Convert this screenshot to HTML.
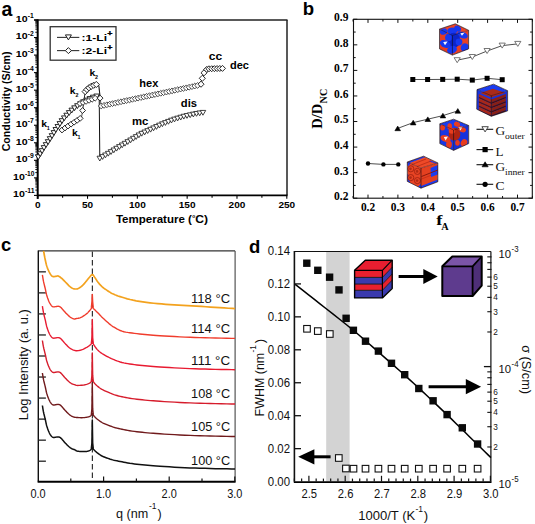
<!DOCTYPE html>
<html><head><meta charset="utf-8"><style>
html,body{margin:0;padding:0;background:#fff;}
body{width:535px;height:524px;overflow:hidden;}
svg{display:block;}
</style></head><body>
<svg width="535" height="524" viewBox="0 0 535 524">
<rect width="535" height="524" fill="#fff"/>
<text x="1.50" y="15.50" font-size="19.5" font-family='"Liberation Sans", sans-serif' font-weight="bold" text-anchor="start" fill="#000" >a</text>
<line x1="34.20" y1="20.00" x2="287.50" y2="20.00" stroke="#222" stroke-width="1.3" />
<line x1="287.00" y1="20.00" x2="287.00" y2="195.40" stroke="#222" stroke-width="1.5" />
<line x1="37.20" y1="195.40" x2="287.50" y2="195.40" stroke="#000" stroke-width="1.7" />
<line x1="37.70" y1="19.40" x2="37.70" y2="198.90" stroke="#000" stroke-width="2.0" />
<line x1="34.00" y1="20.00" x2="37.70" y2="20.00" stroke="#000" stroke-width="1.1" />
<line x1="35.30" y1="32.26" x2="37.70" y2="32.26" stroke="#000" stroke-width="0.9" />
<line x1="35.30" y1="29.17" x2="37.70" y2="29.17" stroke="#000" stroke-width="0.9" />
<line x1="35.30" y1="26.98" x2="37.70" y2="26.98" stroke="#000" stroke-width="0.9" />
<line x1="35.30" y1="25.28" x2="37.70" y2="25.28" stroke="#000" stroke-width="0.9" />
<line x1="35.30" y1="23.89" x2="37.70" y2="23.89" stroke="#000" stroke-width="0.9" />
<line x1="35.30" y1="22.72" x2="37.70" y2="22.72" stroke="#000" stroke-width="0.9" />
<line x1="35.30" y1="21.70" x2="37.70" y2="21.70" stroke="#000" stroke-width="0.9" />
<line x1="35.30" y1="20.80" x2="37.70" y2="20.80" stroke="#000" stroke-width="0.9" />
<line x1="34.00" y1="37.54" x2="37.70" y2="37.54" stroke="#000" stroke-width="1.1" />
<line x1="35.30" y1="49.80" x2="37.70" y2="49.80" stroke="#000" stroke-width="0.9" />
<line x1="35.30" y1="46.71" x2="37.70" y2="46.71" stroke="#000" stroke-width="0.9" />
<line x1="35.30" y1="44.52" x2="37.70" y2="44.52" stroke="#000" stroke-width="0.9" />
<line x1="35.30" y1="42.82" x2="37.70" y2="42.82" stroke="#000" stroke-width="0.9" />
<line x1="35.30" y1="41.43" x2="37.70" y2="41.43" stroke="#000" stroke-width="0.9" />
<line x1="35.30" y1="40.26" x2="37.70" y2="40.26" stroke="#000" stroke-width="0.9" />
<line x1="35.30" y1="39.24" x2="37.70" y2="39.24" stroke="#000" stroke-width="0.9" />
<line x1="35.30" y1="38.34" x2="37.70" y2="38.34" stroke="#000" stroke-width="0.9" />
<line x1="34.00" y1="55.08" x2="37.70" y2="55.08" stroke="#000" stroke-width="1.1" />
<line x1="35.30" y1="67.34" x2="37.70" y2="67.34" stroke="#000" stroke-width="0.9" />
<line x1="35.30" y1="64.25" x2="37.70" y2="64.25" stroke="#000" stroke-width="0.9" />
<line x1="35.30" y1="62.06" x2="37.70" y2="62.06" stroke="#000" stroke-width="0.9" />
<line x1="35.30" y1="60.36" x2="37.70" y2="60.36" stroke="#000" stroke-width="0.9" />
<line x1="35.30" y1="58.97" x2="37.70" y2="58.97" stroke="#000" stroke-width="0.9" />
<line x1="35.30" y1="57.80" x2="37.70" y2="57.80" stroke="#000" stroke-width="0.9" />
<line x1="35.30" y1="56.78" x2="37.70" y2="56.78" stroke="#000" stroke-width="0.9" />
<line x1="35.30" y1="55.88" x2="37.70" y2="55.88" stroke="#000" stroke-width="0.9" />
<line x1="34.00" y1="72.62" x2="37.70" y2="72.62" stroke="#000" stroke-width="1.1" />
<line x1="35.30" y1="84.88" x2="37.70" y2="84.88" stroke="#000" stroke-width="0.9" />
<line x1="35.30" y1="81.79" x2="37.70" y2="81.79" stroke="#000" stroke-width="0.9" />
<line x1="35.30" y1="79.60" x2="37.70" y2="79.60" stroke="#000" stroke-width="0.9" />
<line x1="35.30" y1="77.90" x2="37.70" y2="77.90" stroke="#000" stroke-width="0.9" />
<line x1="35.30" y1="76.51" x2="37.70" y2="76.51" stroke="#000" stroke-width="0.9" />
<line x1="35.30" y1="75.34" x2="37.70" y2="75.34" stroke="#000" stroke-width="0.9" />
<line x1="35.30" y1="74.32" x2="37.70" y2="74.32" stroke="#000" stroke-width="0.9" />
<line x1="35.30" y1="73.42" x2="37.70" y2="73.42" stroke="#000" stroke-width="0.9" />
<line x1="34.00" y1="90.16" x2="37.70" y2="90.16" stroke="#000" stroke-width="1.1" />
<line x1="35.30" y1="102.42" x2="37.70" y2="102.42" stroke="#000" stroke-width="0.9" />
<line x1="35.30" y1="99.33" x2="37.70" y2="99.33" stroke="#000" stroke-width="0.9" />
<line x1="35.30" y1="97.14" x2="37.70" y2="97.14" stroke="#000" stroke-width="0.9" />
<line x1="35.30" y1="95.44" x2="37.70" y2="95.44" stroke="#000" stroke-width="0.9" />
<line x1="35.30" y1="94.05" x2="37.70" y2="94.05" stroke="#000" stroke-width="0.9" />
<line x1="35.30" y1="92.88" x2="37.70" y2="92.88" stroke="#000" stroke-width="0.9" />
<line x1="35.30" y1="91.86" x2="37.70" y2="91.86" stroke="#000" stroke-width="0.9" />
<line x1="35.30" y1="90.96" x2="37.70" y2="90.96" stroke="#000" stroke-width="0.9" />
<line x1="34.00" y1="107.70" x2="37.70" y2="107.70" stroke="#000" stroke-width="1.1" />
<line x1="35.30" y1="119.96" x2="37.70" y2="119.96" stroke="#000" stroke-width="0.9" />
<line x1="35.30" y1="116.87" x2="37.70" y2="116.87" stroke="#000" stroke-width="0.9" />
<line x1="35.30" y1="114.68" x2="37.70" y2="114.68" stroke="#000" stroke-width="0.9" />
<line x1="35.30" y1="112.98" x2="37.70" y2="112.98" stroke="#000" stroke-width="0.9" />
<line x1="35.30" y1="111.59" x2="37.70" y2="111.59" stroke="#000" stroke-width="0.9" />
<line x1="35.30" y1="110.42" x2="37.70" y2="110.42" stroke="#000" stroke-width="0.9" />
<line x1="35.30" y1="109.40" x2="37.70" y2="109.40" stroke="#000" stroke-width="0.9" />
<line x1="35.30" y1="108.50" x2="37.70" y2="108.50" stroke="#000" stroke-width="0.9" />
<line x1="34.00" y1="125.24" x2="37.70" y2="125.24" stroke="#000" stroke-width="1.1" />
<line x1="35.30" y1="137.50" x2="37.70" y2="137.50" stroke="#000" stroke-width="0.9" />
<line x1="35.30" y1="134.41" x2="37.70" y2="134.41" stroke="#000" stroke-width="0.9" />
<line x1="35.30" y1="132.22" x2="37.70" y2="132.22" stroke="#000" stroke-width="0.9" />
<line x1="35.30" y1="130.52" x2="37.70" y2="130.52" stroke="#000" stroke-width="0.9" />
<line x1="35.30" y1="129.13" x2="37.70" y2="129.13" stroke="#000" stroke-width="0.9" />
<line x1="35.30" y1="127.96" x2="37.70" y2="127.96" stroke="#000" stroke-width="0.9" />
<line x1="35.30" y1="126.94" x2="37.70" y2="126.94" stroke="#000" stroke-width="0.9" />
<line x1="35.30" y1="126.04" x2="37.70" y2="126.04" stroke="#000" stroke-width="0.9" />
<line x1="34.00" y1="142.78" x2="37.70" y2="142.78" stroke="#000" stroke-width="1.1" />
<line x1="35.30" y1="155.04" x2="37.70" y2="155.04" stroke="#000" stroke-width="0.9" />
<line x1="35.30" y1="151.95" x2="37.70" y2="151.95" stroke="#000" stroke-width="0.9" />
<line x1="35.30" y1="149.76" x2="37.70" y2="149.76" stroke="#000" stroke-width="0.9" />
<line x1="35.30" y1="148.06" x2="37.70" y2="148.06" stroke="#000" stroke-width="0.9" />
<line x1="35.30" y1="146.67" x2="37.70" y2="146.67" stroke="#000" stroke-width="0.9" />
<line x1="35.30" y1="145.50" x2="37.70" y2="145.50" stroke="#000" stroke-width="0.9" />
<line x1="35.30" y1="144.48" x2="37.70" y2="144.48" stroke="#000" stroke-width="0.9" />
<line x1="35.30" y1="143.58" x2="37.70" y2="143.58" stroke="#000" stroke-width="0.9" />
<line x1="34.00" y1="160.32" x2="37.70" y2="160.32" stroke="#000" stroke-width="1.1" />
<line x1="35.30" y1="172.58" x2="37.70" y2="172.58" stroke="#000" stroke-width="0.9" />
<line x1="35.30" y1="169.49" x2="37.70" y2="169.49" stroke="#000" stroke-width="0.9" />
<line x1="35.30" y1="167.30" x2="37.70" y2="167.30" stroke="#000" stroke-width="0.9" />
<line x1="35.30" y1="165.60" x2="37.70" y2="165.60" stroke="#000" stroke-width="0.9" />
<line x1="35.30" y1="164.21" x2="37.70" y2="164.21" stroke="#000" stroke-width="0.9" />
<line x1="35.30" y1="163.04" x2="37.70" y2="163.04" stroke="#000" stroke-width="0.9" />
<line x1="35.30" y1="162.02" x2="37.70" y2="162.02" stroke="#000" stroke-width="0.9" />
<line x1="35.30" y1="161.12" x2="37.70" y2="161.12" stroke="#000" stroke-width="0.9" />
<line x1="34.00" y1="177.86" x2="37.70" y2="177.86" stroke="#000" stroke-width="1.1" />
<line x1="35.30" y1="190.12" x2="37.70" y2="190.12" stroke="#000" stroke-width="0.9" />
<line x1="35.30" y1="187.03" x2="37.70" y2="187.03" stroke="#000" stroke-width="0.9" />
<line x1="35.30" y1="184.84" x2="37.70" y2="184.84" stroke="#000" stroke-width="0.9" />
<line x1="35.30" y1="183.14" x2="37.70" y2="183.14" stroke="#000" stroke-width="0.9" />
<line x1="35.30" y1="181.75" x2="37.70" y2="181.75" stroke="#000" stroke-width="0.9" />
<line x1="35.30" y1="180.58" x2="37.70" y2="180.58" stroke="#000" stroke-width="0.9" />
<line x1="35.30" y1="179.56" x2="37.70" y2="179.56" stroke="#000" stroke-width="0.9" />
<line x1="35.30" y1="178.66" x2="37.70" y2="178.66" stroke="#000" stroke-width="0.9" />
<line x1="34.00" y1="195.40" x2="37.70" y2="195.40" stroke="#000" stroke-width="1.1" />
<text x="27.70" y="18.00" font-size="6.6" font-family='"Liberation Sans", sans-serif' font-weight="bold" text-anchor="start" fill="#000" textLength="6.00" lengthAdjust="spacingAndGlyphs" >-1</text>
<text x="27.60" y="21.90" font-size="9.6" font-family='"Liberation Sans", sans-serif' font-weight="bold" text-anchor="end" fill="#000" textLength="11.80" lengthAdjust="spacingAndGlyphs" >10</text>
<text x="27.70" y="35.54" font-size="6.6" font-family='"Liberation Sans", sans-serif' font-weight="bold" text-anchor="start" fill="#000" textLength="6.00" lengthAdjust="spacingAndGlyphs" >-2</text>
<text x="27.60" y="39.44" font-size="9.6" font-family='"Liberation Sans", sans-serif' font-weight="bold" text-anchor="end" fill="#000" textLength="11.80" lengthAdjust="spacingAndGlyphs" >10</text>
<text x="27.70" y="53.08" font-size="6.6" font-family='"Liberation Sans", sans-serif' font-weight="bold" text-anchor="start" fill="#000" textLength="6.00" lengthAdjust="spacingAndGlyphs" >-3</text>
<text x="27.60" y="56.98" font-size="9.6" font-family='"Liberation Sans", sans-serif' font-weight="bold" text-anchor="end" fill="#000" textLength="11.80" lengthAdjust="spacingAndGlyphs" >10</text>
<text x="27.70" y="70.62" font-size="6.6" font-family='"Liberation Sans", sans-serif' font-weight="bold" text-anchor="start" fill="#000" textLength="6.00" lengthAdjust="spacingAndGlyphs" >-4</text>
<text x="27.60" y="74.52" font-size="9.6" font-family='"Liberation Sans", sans-serif' font-weight="bold" text-anchor="end" fill="#000" textLength="11.80" lengthAdjust="spacingAndGlyphs" >10</text>
<text x="27.70" y="88.16" font-size="6.6" font-family='"Liberation Sans", sans-serif' font-weight="bold" text-anchor="start" fill="#000" textLength="6.00" lengthAdjust="spacingAndGlyphs" >-5</text>
<text x="27.60" y="92.06" font-size="9.6" font-family='"Liberation Sans", sans-serif' font-weight="bold" text-anchor="end" fill="#000" textLength="11.80" lengthAdjust="spacingAndGlyphs" >10</text>
<text x="27.70" y="105.70" font-size="6.6" font-family='"Liberation Sans", sans-serif' font-weight="bold" text-anchor="start" fill="#000" textLength="6.00" lengthAdjust="spacingAndGlyphs" >-6</text>
<text x="27.60" y="109.60" font-size="9.6" font-family='"Liberation Sans", sans-serif' font-weight="bold" text-anchor="end" fill="#000" textLength="11.80" lengthAdjust="spacingAndGlyphs" >10</text>
<text x="27.70" y="123.24" font-size="6.6" font-family='"Liberation Sans", sans-serif' font-weight="bold" text-anchor="start" fill="#000" textLength="6.00" lengthAdjust="spacingAndGlyphs" >-7</text>
<text x="27.60" y="127.14" font-size="9.6" font-family='"Liberation Sans", sans-serif' font-weight="bold" text-anchor="end" fill="#000" textLength="11.80" lengthAdjust="spacingAndGlyphs" >10</text>
<text x="27.70" y="140.78" font-size="6.6" font-family='"Liberation Sans", sans-serif' font-weight="bold" text-anchor="start" fill="#000" textLength="6.00" lengthAdjust="spacingAndGlyphs" >-8</text>
<text x="27.60" y="144.68" font-size="9.6" font-family='"Liberation Sans", sans-serif' font-weight="bold" text-anchor="end" fill="#000" textLength="11.80" lengthAdjust="spacingAndGlyphs" >10</text>
<text x="27.70" y="158.32" font-size="6.6" font-family='"Liberation Sans", sans-serif' font-weight="bold" text-anchor="start" fill="#000" textLength="6.00" lengthAdjust="spacingAndGlyphs" >-9</text>
<text x="27.60" y="162.22" font-size="9.6" font-family='"Liberation Sans", sans-serif' font-weight="bold" text-anchor="end" fill="#000" textLength="11.80" lengthAdjust="spacingAndGlyphs" >10</text>
<text x="24.90" y="175.86" font-size="6.6" font-family='"Liberation Sans", sans-serif' font-weight="bold" text-anchor="start" fill="#000" textLength="9.60" lengthAdjust="spacingAndGlyphs" >-10</text>
<text x="24.80" y="179.76" font-size="9.6" font-family='"Liberation Sans", sans-serif' font-weight="bold" text-anchor="end" fill="#000" textLength="11.80" lengthAdjust="spacingAndGlyphs" >10</text>
<text x="24.90" y="193.40" font-size="6.6" font-family='"Liberation Sans", sans-serif' font-weight="bold" text-anchor="start" fill="#000" textLength="9.60" lengthAdjust="spacingAndGlyphs" >-11</text>
<text x="24.80" y="197.30" font-size="9.6" font-family='"Liberation Sans", sans-serif' font-weight="bold" text-anchor="end" fill="#000" textLength="11.80" lengthAdjust="spacingAndGlyphs" >10</text>
<line x1="37.70" y1="195.40" x2="37.70" y2="198.80" stroke="#000" stroke-width="1.1" />
<line x1="62.61" y1="195.40" x2="62.61" y2="197.80" stroke="#000" stroke-width="1.1" />
<line x1="87.52" y1="195.40" x2="87.52" y2="198.80" stroke="#000" stroke-width="1.1" />
<line x1="112.43" y1="195.40" x2="112.43" y2="197.80" stroke="#000" stroke-width="1.1" />
<line x1="137.34" y1="195.40" x2="137.34" y2="198.80" stroke="#000" stroke-width="1.1" />
<line x1="162.25" y1="195.40" x2="162.25" y2="197.80" stroke="#000" stroke-width="1.1" />
<line x1="187.16" y1="195.40" x2="187.16" y2="198.80" stroke="#000" stroke-width="1.1" />
<line x1="212.07" y1="195.40" x2="212.07" y2="197.80" stroke="#000" stroke-width="1.1" />
<line x1="236.98" y1="195.40" x2="236.98" y2="198.80" stroke="#000" stroke-width="1.1" />
<line x1="261.89" y1="195.40" x2="261.89" y2="197.80" stroke="#000" stroke-width="1.1" />
<line x1="286.80" y1="195.40" x2="286.80" y2="198.80" stroke="#000" stroke-width="1.1" />
<text x="37.70" y="208.00" font-size="8.6" font-family='"Liberation Sans", sans-serif' font-weight="bold" text-anchor="middle" fill="#000" textLength="5.60" lengthAdjust="spacingAndGlyphs" >0</text>
<text x="87.52" y="208.00" font-size="8.6" font-family='"Liberation Sans", sans-serif' font-weight="bold" text-anchor="middle" fill="#000" textLength="11.20" lengthAdjust="spacingAndGlyphs" >50</text>
<text x="137.34" y="208.00" font-size="8.6" font-family='"Liberation Sans", sans-serif' font-weight="bold" text-anchor="middle" fill="#000" textLength="16.80" lengthAdjust="spacingAndGlyphs" >100</text>
<text x="187.16" y="208.00" font-size="8.6" font-family='"Liberation Sans", sans-serif' font-weight="bold" text-anchor="middle" fill="#000" textLength="16.80" lengthAdjust="spacingAndGlyphs" >150</text>
<text x="236.98" y="208.00" font-size="8.6" font-family='"Liberation Sans", sans-serif' font-weight="bold" text-anchor="middle" fill="#000" textLength="16.80" lengthAdjust="spacingAndGlyphs" >200</text>
<text x="286.80" y="208.00" font-size="8.6" font-family='"Liberation Sans", sans-serif' font-weight="bold" text-anchor="middle" fill="#000" textLength="16.80" lengthAdjust="spacingAndGlyphs" >250</text>
<text x="115.90" y="222.50" font-size="10.0" font-family='"Liberation Sans", sans-serif' font-weight="bold" text-anchor="start" fill="#000" textLength="76.00" lengthAdjust="spacingAndGlyphs" >Temperature (</text>
<text x="192.20" y="218.00" font-size="5.5" font-family='"Liberation Sans", sans-serif' font-weight="bold" text-anchor="start" fill="#000" textLength="3.00" lengthAdjust="spacingAndGlyphs" >o</text>
<text x="195.20" y="222.50" font-size="10.0" font-family='"Liberation Sans", sans-serif' font-weight="bold" text-anchor="start" fill="#000" textLength="12.80" lengthAdjust="spacingAndGlyphs" >C)</text>
<text x="9.80" y="151.30" font-size="10.6" font-family='"Liberation Sans", sans-serif' font-weight="bold" text-anchor="start" fill="#000" textLength="99.80" lengthAdjust="spacingAndGlyphs" transform="rotate(-90 9.80 151.30)" >Conductivity (S/cm)</text>
<rect x="50.20" y="26.70" width="65.80" height="33.50" fill="none" stroke="#333" stroke-width="1.3" />
<line x1="57.00" y1="37.40" x2="79.30" y2="37.40" stroke="#333" stroke-width="1.1" />
<polygon points="65.40,34.90 71.40,34.90 68.40,39.90" fill="#fff" stroke="#222" stroke-width="1.0" />
<line x1="57.00" y1="50.60" x2="79.30" y2="50.60" stroke="#333" stroke-width="1.1" />
<polygon points="68.40,47.60 71.40,50.60 68.40,53.60 65.40,50.60" fill="#fff" stroke="#222" stroke-width="1.0" />
<text x="81.50" y="41.10" font-size="9.6" font-family='"Liberation Sans", sans-serif' font-weight="bold" text-anchor="start" fill="#000" textLength="25.50" lengthAdjust="spacingAndGlyphs" >:1-Li</text>
<text x="107.20" y="36.40" font-size="8.0" font-family='"Liberation Sans", sans-serif' font-weight="bold" text-anchor="start" fill="#000" textLength="5.20" lengthAdjust="spacingAndGlyphs" stroke="#000" stroke-width="0.4">+</text>
<text x="81.50" y="54.40" font-size="9.6" font-family='"Liberation Sans", sans-serif' font-weight="bold" text-anchor="start" fill="#000" textLength="25.50" lengthAdjust="spacingAndGlyphs" >:2-Li</text>
<text x="107.20" y="49.60" font-size="8.0" font-family='"Liberation Sans", sans-serif' font-weight="bold" text-anchor="start" fill="#000" textLength="5.20" lengthAdjust="spacingAndGlyphs" stroke="#000" stroke-width="0.4">+</text>
<polyline points="38.30,157.20 43.60,148.60 48.40,141.60 53.10,134.40 56.00,129.60 58.90,125.40 61.70,121.40 65.50,116.80 69.40,112.80 73.20,109.20 77.90,105.80 82.70,102.60 88.40,99.60 94.20,97.20 98.80,95.80" fill="none" stroke="#222" stroke-width="0.8" stroke-linejoin="round" />
<line x1="99.20" y1="95.60" x2="99.80" y2="158.20" stroke="#111" stroke-width="1.0" />
<polyline points="99.80,158.60 106.50,154.80 117.90,147.90 129.40,141.10 140.80,134.20 150.00,130.00 161.50,124.60 172.90,120.00 184.40,116.50 195.80,114.00 204.30,112.60" fill="none" stroke="#222" stroke-width="0.8" stroke-linejoin="round" />
<polyline points="62.00,130.00 66.00,127.30 70.00,124.80 74.00,122.30 78.00,119.80 81.50,117.50" fill="none" stroke="#222" stroke-width="0.8" stroke-linejoin="round" />
<line x1="81.50" y1="117.50" x2="82.60" y2="110.50" stroke="#222" stroke-width="0.8" />
<line x1="82.60" y1="110.50" x2="85.20" y2="91.60" stroke="#111" stroke-width="0.9" />
<polyline points="85.20,91.60 87.60,88.80 90.20,86.80 93.20,85.40 96.20,84.50 98.60,84.60" fill="none" stroke="#222" stroke-width="0.8" stroke-linejoin="round" />
<line x1="98.80" y1="85.50" x2="100.10" y2="97.00" stroke="#111" stroke-width="1.1" />
<line x1="100.10" y1="98.10" x2="101.20" y2="105.60" stroke="#222" stroke-width="0.8" />
<polygon points="35.50,154.80 41.10,154.80 38.30,159.60" fill="#fff" stroke="#111" stroke-width="0.9" />
<polygon points="37.39,151.74 42.99,151.74 40.19,156.54" fill="#fff" stroke="#111" stroke-width="0.9" />
<polygon points="39.28,148.67 44.88,148.67 42.08,153.47" fill="#fff" stroke="#111" stroke-width="0.9" />
<polygon points="41.19,145.62 46.79,145.62 43.99,150.42" fill="#fff" stroke="#111" stroke-width="0.9" />
<polygon points="43.23,142.66 48.83,142.66 46.03,147.46" fill="#fff" stroke="#111" stroke-width="0.9" />
<polygon points="45.27,139.69 50.87,139.69 48.07,144.49" fill="#fff" stroke="#111" stroke-width="0.9" />
<polygon points="47.25,136.68 52.85,136.68 50.05,141.48" fill="#fff" stroke="#111" stroke-width="0.9" />
<polygon points="49.21,133.66 54.81,133.66 52.01,138.46" fill="#fff" stroke="#111" stroke-width="0.9" />
<polygon points="51.13,130.62 56.73,130.62 53.93,135.42" fill="#fff" stroke="#111" stroke-width="0.9" />
<polygon points="53.00,127.54 58.60,127.54 55.80,132.34" fill="#fff" stroke="#111" stroke-width="0.9" />
<polygon points="55.02,124.56 60.62,124.56 57.82,129.36" fill="#fff" stroke="#111" stroke-width="0.9" />
<polygon points="57.07,121.61 62.67,121.61 59.87,126.41" fill="#fff" stroke="#111" stroke-width="0.9" />
<polygon points="59.17,118.68 64.77,118.68 61.97,123.48" fill="#fff" stroke="#111" stroke-width="0.9" />
<polygon points="61.46,115.90 67.06,115.90 64.26,120.70" fill="#fff" stroke="#111" stroke-width="0.9" />
<polygon points="63.85,113.22 69.45,113.22 66.65,118.02" fill="#fff" stroke="#111" stroke-width="0.9" />
<polygon points="66.37,110.64 71.97,110.64 69.17,115.44" fill="#fff" stroke="#111" stroke-width="0.9" />
<polygon points="68.97,108.15 74.57,108.15 71.77,112.95" fill="#fff" stroke="#111" stroke-width="0.9" />
<polygon points="71.72,105.84 77.32,105.84 74.52,110.64" fill="#fff" stroke="#111" stroke-width="0.9" />
<polygon points="74.64,103.73 80.24,103.73 77.44,108.53" fill="#fff" stroke="#111" stroke-width="0.9" />
<polygon points="77.62,101.72 83.22,101.72 80.42,106.52" fill="#fff" stroke="#111" stroke-width="0.9" />
<polygon points="80.66,99.80 86.26,99.80 83.46,104.60" fill="#fff" stroke="#111" stroke-width="0.9" />
<polygon points="83.85,98.12 89.45,98.12 86.65,102.92" fill="#fff" stroke="#111" stroke-width="0.9" />
<polygon points="87.10,96.58 92.70,96.58 89.90,101.38" fill="#fff" stroke="#111" stroke-width="0.9" />
<polygon points="90.42,95.20 96.02,95.20 93.22,100.00" fill="#fff" stroke="#111" stroke-width="0.9" />
<polygon points="93.83,94.06 99.43,94.06 96.63,98.86" fill="#fff" stroke="#111" stroke-width="0.9" />
<polygon points="80.00,100.60 82.90,103.50 80.00,106.40 77.10,103.50" fill="#fff" stroke="#111" stroke-width="0.8" />
<polygon points="83.02,99.55 85.92,102.45 83.02,105.35 80.12,102.45" fill="#fff" stroke="#111" stroke-width="0.8" />
<polygon points="86.05,98.50 88.95,101.40 86.05,104.30 83.15,101.40" fill="#fff" stroke="#111" stroke-width="0.8" />
<polygon points="89.07,97.45 91.97,100.35 89.07,103.25 86.17,100.35" fill="#fff" stroke="#111" stroke-width="0.8" />
<polygon points="92.09,96.40 94.99,99.30 92.09,102.20 89.19,99.30" fill="#fff" stroke="#111" stroke-width="0.8" />
<polygon points="95.12,95.35 98.02,98.25 95.12,101.15 92.22,98.25" fill="#fff" stroke="#111" stroke-width="0.8" />
<polygon points="97.00,156.20 102.60,156.20 99.80,161.00" fill="#fff" stroke="#222" stroke-width="0.85" />
<polygon points="99.83,154.60 105.43,154.60 102.63,159.40" fill="#fff" stroke="#222" stroke-width="0.85" />
<polygon points="102.65,152.99 108.25,152.99 105.45,157.79" fill="#fff" stroke="#222" stroke-width="0.85" />
<polygon points="105.45,151.34 111.05,151.34 108.25,156.14" fill="#fff" stroke="#222" stroke-width="0.85" />
<polygon points="108.23,149.66 113.83,149.66 111.03,154.46" fill="#fff" stroke="#222" stroke-width="0.85" />
<polygon points="111.01,147.97 116.61,147.97 113.81,152.77" fill="#fff" stroke="#222" stroke-width="0.85" />
<polygon points="113.79,146.29 119.39,146.29 116.59,151.09" fill="#fff" stroke="#222" stroke-width="0.85" />
<polygon points="116.58,144.62 122.18,144.62 119.38,149.42" fill="#fff" stroke="#222" stroke-width="0.85" />
<polygon points="119.38,142.97 124.98,142.97 122.18,147.77" fill="#fff" stroke="#222" stroke-width="0.85" />
<polygon points="122.18,141.32 127.78,141.32 124.98,146.12" fill="#fff" stroke="#222" stroke-width="0.85" />
<polygon points="124.97,139.66 130.57,139.66 127.77,144.46" fill="#fff" stroke="#222" stroke-width="0.85" />
<polygon points="127.77,137.99 133.37,137.99 130.57,142.79" fill="#fff" stroke="#222" stroke-width="0.85" />
<polygon points="130.55,136.31 136.15,136.31 133.35,141.11" fill="#fff" stroke="#222" stroke-width="0.85" />
<polygon points="133.33,134.63 138.93,134.63 136.13,139.43" fill="#fff" stroke="#222" stroke-width="0.85" />
<polygon points="136.11,132.95 141.71,132.95 138.91,137.75" fill="#fff" stroke="#222" stroke-width="0.85" />
<polygon points="138.94,131.37 144.54,131.37 141.74,136.17" fill="#fff" stroke="#222" stroke-width="0.85" />
<polygon points="141.90,130.02 147.50,130.02 144.70,134.82" fill="#fff" stroke="#222" stroke-width="0.85" />
<polygon points="144.86,128.67 150.46,128.67 147.66,133.47" fill="#fff" stroke="#222" stroke-width="0.85" />
<polygon points="147.81,127.31 153.41,127.31 150.61,132.11" fill="#fff" stroke="#222" stroke-width="0.85" />
<polygon points="150.75,125.93 156.35,125.93 153.55,130.73" fill="#fff" stroke="#222" stroke-width="0.85" />
<polygon points="153.69,124.55 159.29,124.55 156.49,129.35" fill="#fff" stroke="#222" stroke-width="0.85" />
<polygon points="156.63,123.17 162.23,123.17 159.43,127.97" fill="#fff" stroke="#222" stroke-width="0.85" />
<polygon points="159.60,121.84 165.20,121.84 162.40,126.64" fill="#fff" stroke="#222" stroke-width="0.85" />
<polygon points="162.61,120.62 168.21,120.62 165.41,125.42" fill="#fff" stroke="#222" stroke-width="0.85" />
<polygon points="165.63,119.41 171.23,119.41 168.43,124.21" fill="#fff" stroke="#222" stroke-width="0.85" />
<polygon points="168.64,118.19 174.24,118.19 171.44,122.99" fill="#fff" stroke="#222" stroke-width="0.85" />
<polygon points="171.70,117.11 177.30,117.11 174.50,121.91" fill="#fff" stroke="#222" stroke-width="0.85" />
<polygon points="174.81,116.17 180.41,116.17 177.61,120.97" fill="#fff" stroke="#222" stroke-width="0.85" />
<polygon points="177.92,115.22 183.52,115.22 180.72,120.02" fill="#fff" stroke="#222" stroke-width="0.85" />
<polygon points="181.03,114.27 186.63,114.27 183.83,119.07" fill="#fff" stroke="#222" stroke-width="0.85" />
<polygon points="184.19,113.53 189.79,113.53 186.99,118.33" fill="#fff" stroke="#222" stroke-width="0.85" />
<polygon points="187.37,112.84 192.97,112.84 190.17,117.64" fill="#fff" stroke="#222" stroke-width="0.85" />
<polygon points="190.54,112.14 196.14,112.14 193.34,116.94" fill="#fff" stroke="#222" stroke-width="0.85" />
<polygon points="193.72,111.48 199.32,111.48 196.52,116.28" fill="#fff" stroke="#222" stroke-width="0.85" />
<polygon points="196.93,110.95 202.53,110.95 199.73,115.75" fill="#fff" stroke="#222" stroke-width="0.85" />
<polygon points="200.14,110.42 205.74,110.42 202.94,115.22" fill="#fff" stroke="#222" stroke-width="0.85" />
<polygon points="62.00,127.10 64.90,130.00 62.00,132.90 59.10,130.00" fill="#fff" stroke="#111" stroke-width="0.9" />
<polygon points="64.98,125.09 67.88,127.99 64.98,130.89 62.08,127.99" fill="#fff" stroke="#111" stroke-width="0.9" />
<polygon points="68.01,123.14 70.91,126.04 68.01,128.94 65.11,126.04" fill="#fff" stroke="#111" stroke-width="0.9" />
<polygon points="71.07,121.23 73.97,124.13 71.07,127.03 68.17,124.13" fill="#fff" stroke="#111" stroke-width="0.9" />
<polygon points="74.12,119.33 77.02,122.23 74.12,125.13 71.22,122.23" fill="#fff" stroke="#111" stroke-width="0.9" />
<polygon points="77.17,117.42 80.07,120.32 77.17,123.22 74.27,120.32" fill="#fff" stroke="#111" stroke-width="0.9" />
<polygon points="80.19,115.46 83.09,118.36 80.19,121.26 77.29,118.36" fill="#fff" stroke="#111" stroke-width="0.9" />
<polygon points="82.60,107.60 85.50,110.50 82.60,113.40 79.70,110.50" fill="#fff" stroke="#111" stroke-width="0.9" />
<polygon points="85.20,88.50 88.30,91.60 85.20,94.70 82.10,91.60" fill="#fff" stroke="#111" stroke-width="0.9" />
<polygon points="86.96,86.45 90.06,89.55 86.96,92.65 83.86,89.55" fill="#fff" stroke="#111" stroke-width="0.9" />
<polygon points="88.96,84.66 92.06,87.76 88.96,90.86 85.86,87.76" fill="#fff" stroke="#111" stroke-width="0.9" />
<polygon points="91.23,83.22 94.33,86.32 91.23,89.42 88.13,86.32" fill="#fff" stroke="#111" stroke-width="0.9" />
<polygon points="93.70,82.15 96.80,85.25 93.70,88.35 90.60,85.25" fill="#fff" stroke="#111" stroke-width="0.9" />
<polygon points="96.29,81.40 99.39,84.50 96.29,87.60 93.19,84.50" fill="#fff" stroke="#111" stroke-width="0.9" />
<polygon points="100.10,95.20 103.00,98.10 100.10,101.00 97.20,98.10" fill="#fff" stroke="#111" stroke-width="0.9" />
<polygon points="101.20,103.10 104.10,106.00 101.20,108.90 98.30,106.00" fill="#fff" stroke="#222" stroke-width="0.8" />
<polygon points="104.04,102.49 106.94,105.39 104.04,108.29 101.14,105.39" fill="#fff" stroke="#222" stroke-width="0.8" />
<polygon points="106.87,101.89 109.77,104.79 106.87,107.69 103.97,104.79" fill="#fff" stroke="#222" stroke-width="0.8" />
<polygon points="109.71,101.28 112.61,104.18 109.71,107.08 106.81,104.18" fill="#fff" stroke="#222" stroke-width="0.8" />
<polygon points="112.54,100.68 115.44,103.58 112.54,106.48 109.64,103.58" fill="#fff" stroke="#222" stroke-width="0.8" />
<polygon points="115.38,100.07 118.28,102.97 115.38,105.87 112.48,102.97" fill="#fff" stroke="#222" stroke-width="0.8" />
<polygon points="118.22,99.47 121.12,102.37 118.22,105.27 115.32,102.37" fill="#fff" stroke="#222" stroke-width="0.8" />
<polygon points="121.05,98.86 123.95,101.76 121.05,104.66 118.15,101.76" fill="#fff" stroke="#222" stroke-width="0.8" />
<polygon points="123.89,98.25 126.79,101.15 123.89,104.05 120.99,101.15" fill="#fff" stroke="#222" stroke-width="0.8" />
<polygon points="126.72,97.65 129.62,100.55 126.72,103.45 123.82,100.55" fill="#fff" stroke="#222" stroke-width="0.8" />
<polygon points="129.56,97.04 132.46,99.94 129.56,102.84 126.66,99.94" fill="#fff" stroke="#222" stroke-width="0.8" />
<polygon points="132.40,96.44 135.30,99.34 132.40,102.24 129.50,99.34" fill="#fff" stroke="#222" stroke-width="0.8" />
<polygon points="135.23,95.83 138.13,98.73 135.23,101.63 132.33,98.73" fill="#fff" stroke="#222" stroke-width="0.8" />
<polygon points="138.07,95.23 140.97,98.13 138.07,101.03 135.17,98.13" fill="#fff" stroke="#222" stroke-width="0.8" />
<polygon points="140.90,94.62 143.80,97.52 140.90,100.42 138.00,97.52" fill="#fff" stroke="#222" stroke-width="0.8" />
<polygon points="143.74,94.02 146.64,96.92 143.74,99.82 140.84,96.92" fill="#fff" stroke="#222" stroke-width="0.8" />
<polygon points="146.58,93.41 149.48,96.31 146.58,99.21 143.68,96.31" fill="#fff" stroke="#222" stroke-width="0.8" />
<polygon points="149.41,92.80 152.31,95.70 149.41,98.60 146.51,95.70" fill="#fff" stroke="#222" stroke-width="0.8" />
<polygon points="152.25,92.20 155.15,95.10 152.25,98.00 149.35,95.10" fill="#fff" stroke="#222" stroke-width="0.8" />
<polygon points="155.08,91.59 157.98,94.49 155.08,97.39 152.18,94.49" fill="#fff" stroke="#222" stroke-width="0.8" />
<polygon points="157.92,90.99 160.82,93.89 157.92,96.79 155.02,93.89" fill="#fff" stroke="#222" stroke-width="0.8" />
<polygon points="160.76,90.38 163.66,93.28 160.76,96.18 157.86,93.28" fill="#fff" stroke="#222" stroke-width="0.8" />
<polygon points="163.59,89.78 166.49,92.68 163.59,95.58 160.69,92.68" fill="#fff" stroke="#222" stroke-width="0.8" />
<polygon points="166.43,89.17 169.33,92.07 166.43,94.97 163.53,92.07" fill="#fff" stroke="#222" stroke-width="0.8" />
<polygon points="169.27,88.56 172.17,91.46 169.27,94.36 166.37,91.46" fill="#fff" stroke="#222" stroke-width="0.8" />
<polygon points="172.10,87.96 175.00,90.86 172.10,93.76 169.20,90.86" fill="#fff" stroke="#222" stroke-width="0.8" />
<polygon points="174.94,87.35 177.84,90.25 174.94,93.15 172.04,90.25" fill="#fff" stroke="#222" stroke-width="0.8" />
<polygon points="177.77,86.75 180.67,89.65 177.77,92.55 174.87,89.65" fill="#fff" stroke="#222" stroke-width="0.8" />
<polygon points="180.61,86.14 183.51,89.04 180.61,91.94 177.71,89.04" fill="#fff" stroke="#222" stroke-width="0.8" />
<polygon points="183.45,85.54 186.35,88.44 183.45,91.34 180.55,88.44" fill="#fff" stroke="#222" stroke-width="0.8" />
<polygon points="186.28,84.93 189.18,87.83 186.28,90.73 183.38,87.83" fill="#fff" stroke="#222" stroke-width="0.8" />
<polygon points="189.12,84.32 192.02,87.22 189.12,90.12 186.22,87.22" fill="#fff" stroke="#222" stroke-width="0.8" />
<polygon points="191.95,83.72 194.85,86.62 191.95,89.52 189.05,86.62" fill="#fff" stroke="#222" stroke-width="0.8" />
<polygon points="194.79,83.11 197.69,86.01 194.79,88.91 191.89,86.01" fill="#fff" stroke="#222" stroke-width="0.8" />
<polygon points="197.63,82.51 200.53,85.41 197.63,88.31 194.73,85.41" fill="#fff" stroke="#222" stroke-width="0.8" />
<polygon points="201.00,81.15 204.05,84.20 201.00,87.25 197.95,84.20" fill="#fff" stroke="#111" stroke-width="0.9" />
<polygon points="202.30,75.25 205.35,78.30 202.30,81.35 199.25,78.30" fill="#fff" stroke="#111" stroke-width="0.9" />
<polygon points="204.00,69.75 207.05,72.80 204.00,75.85 200.95,72.80" fill="#fff" stroke="#111" stroke-width="0.9" />
<polygon points="206.80,66.35 209.85,69.40 206.80,72.45 203.75,69.40" fill="#fff" stroke="#111" stroke-width="0.9" />
<polygon points="209.00,65.80 212.00,68.80 209.00,71.80 206.00,68.80" fill="#fff" stroke="#111" stroke-width="0.9" />
<polygon points="211.70,65.72 214.70,68.72 211.70,71.72 208.70,68.72" fill="#fff" stroke="#111" stroke-width="0.9" />
<polygon points="214.40,65.64 217.40,68.64 214.40,71.64 211.40,68.64" fill="#fff" stroke="#111" stroke-width="0.9" />
<polygon points="217.10,65.56 220.10,68.56 217.10,71.56 214.10,68.56" fill="#fff" stroke="#111" stroke-width="0.9" />
<polygon points="219.80,65.48 222.80,68.48 219.80,71.48 216.80,68.48" fill="#fff" stroke="#111" stroke-width="0.9" />
<polygon points="222.49,65.40 225.49,68.40 222.49,71.40 219.49,68.40" fill="#fff" stroke="#111" stroke-width="0.9" />
<text x="41.20" y="126.80" font-size="9.6" font-family='"Liberation Sans", sans-serif' font-weight="bold" text-anchor="start" fill="#000" textLength="5.80" lengthAdjust="spacingAndGlyphs" >k</text>
<text x="46.80" y="129.60" font-size="5.8" font-family='"Liberation Sans", sans-serif' font-weight="bold" text-anchor="start" fill="#000" textLength="3.00" lengthAdjust="spacingAndGlyphs" >1</text>
<text x="72.00" y="136.20" font-size="9.6" font-family='"Liberation Sans", sans-serif' font-weight="bold" text-anchor="start" fill="#000" textLength="5.80" lengthAdjust="spacingAndGlyphs" >k</text>
<text x="77.60" y="139.00" font-size="5.8" font-family='"Liberation Sans", sans-serif' font-weight="bold" text-anchor="start" fill="#000" textLength="3.00" lengthAdjust="spacingAndGlyphs" >1</text>
<text x="69.80" y="94.00" font-size="9.6" font-family='"Liberation Sans", sans-serif' font-weight="bold" text-anchor="start" fill="#000" textLength="5.80" lengthAdjust="spacingAndGlyphs" >k</text>
<text x="75.40" y="96.80" font-size="5.8" font-family='"Liberation Sans", sans-serif' font-weight="bold" text-anchor="start" fill="#000" textLength="3.00" lengthAdjust="spacingAndGlyphs" >2</text>
<text x="89.40" y="76.20" font-size="9.6" font-family='"Liberation Sans", sans-serif' font-weight="bold" text-anchor="start" fill="#000" textLength="5.80" lengthAdjust="spacingAndGlyphs" >k</text>
<text x="95.00" y="79.00" font-size="5.8" font-family='"Liberation Sans", sans-serif' font-weight="bold" text-anchor="start" fill="#000" textLength="3.00" lengthAdjust="spacingAndGlyphs" >2</text>
<text x="139.30" y="86.60" font-size="10.6" font-family='"Liberation Sans", sans-serif' font-weight="bold" text-anchor="start" fill="#000" textLength="19.00" lengthAdjust="spacingAndGlyphs" >hex</text>
<text x="131.90" y="124.60" font-size="10.6" font-family='"Liberation Sans", sans-serif' font-weight="bold" text-anchor="start" fill="#000" textLength="16.40" lengthAdjust="spacingAndGlyphs" >mc</text>
<text x="180.80" y="107.40" font-size="10.6" font-family='"Liberation Sans", sans-serif' font-weight="bold" text-anchor="start" fill="#000" textLength="16.20" lengthAdjust="spacingAndGlyphs" >dis</text>
<text x="208.80" y="60.20" font-size="10.6" font-family='"Liberation Sans", sans-serif' font-weight="bold" text-anchor="start" fill="#000" textLength="13.40" lengthAdjust="spacingAndGlyphs" >cc</text>
<text x="230.00" y="69.40" font-size="10.6" font-family='"Liberation Sans", sans-serif' font-weight="bold" text-anchor="start" fill="#000" textLength="19.00" lengthAdjust="spacingAndGlyphs" >dec</text>
<text x="302.80" y="15.30" font-size="18.6" font-family='"Liberation Sans", sans-serif' font-weight="bold" text-anchor="start" fill="#000" >b</text>
<rect x="353.50" y="19.30" width="178.80" height="178.90" fill="none" stroke="#111" stroke-width="1.1" />
<line x1="353.05" y1="198.20" x2="353.05" y2="196.00" stroke="#111" stroke-width="1.0" />
<line x1="353.05" y1="19.30" x2="353.05" y2="21.50" stroke="#111" stroke-width="1.0" />
<line x1="368.00" y1="198.20" x2="368.00" y2="194.60" stroke="#111" stroke-width="1.0" />
<line x1="368.00" y1="19.30" x2="368.00" y2="22.90" stroke="#111" stroke-width="1.0" />
<line x1="382.95" y1="198.20" x2="382.95" y2="196.00" stroke="#111" stroke-width="1.0" />
<line x1="382.95" y1="19.30" x2="382.95" y2="21.50" stroke="#111" stroke-width="1.0" />
<line x1="397.90" y1="198.20" x2="397.90" y2="194.60" stroke="#111" stroke-width="1.0" />
<line x1="397.90" y1="19.30" x2="397.90" y2="22.90" stroke="#111" stroke-width="1.0" />
<line x1="412.85" y1="198.20" x2="412.85" y2="196.00" stroke="#111" stroke-width="1.0" />
<line x1="412.85" y1="19.30" x2="412.85" y2="21.50" stroke="#111" stroke-width="1.0" />
<line x1="427.80" y1="198.20" x2="427.80" y2="194.60" stroke="#111" stroke-width="1.0" />
<line x1="427.80" y1="19.30" x2="427.80" y2="22.90" stroke="#111" stroke-width="1.0" />
<line x1="442.75" y1="198.20" x2="442.75" y2="196.00" stroke="#111" stroke-width="1.0" />
<line x1="442.75" y1="19.30" x2="442.75" y2="21.50" stroke="#111" stroke-width="1.0" />
<line x1="457.70" y1="198.20" x2="457.70" y2="194.60" stroke="#111" stroke-width="1.0" />
<line x1="457.70" y1="19.30" x2="457.70" y2="22.90" stroke="#111" stroke-width="1.0" />
<line x1="472.65" y1="198.20" x2="472.65" y2="196.00" stroke="#111" stroke-width="1.0" />
<line x1="472.65" y1="19.30" x2="472.65" y2="21.50" stroke="#111" stroke-width="1.0" />
<line x1="487.60" y1="198.20" x2="487.60" y2="194.60" stroke="#111" stroke-width="1.0" />
<line x1="487.60" y1="19.30" x2="487.60" y2="22.90" stroke="#111" stroke-width="1.0" />
<line x1="502.55" y1="198.20" x2="502.55" y2="196.00" stroke="#111" stroke-width="1.0" />
<line x1="502.55" y1="19.30" x2="502.55" y2="21.50" stroke="#111" stroke-width="1.0" />
<line x1="517.50" y1="198.20" x2="517.50" y2="194.60" stroke="#111" stroke-width="1.0" />
<line x1="517.50" y1="19.30" x2="517.50" y2="22.90" stroke="#111" stroke-width="1.0" />
<line x1="532.45" y1="198.20" x2="532.45" y2="196.00" stroke="#111" stroke-width="1.0" />
<line x1="532.45" y1="19.30" x2="532.45" y2="21.50" stroke="#111" stroke-width="1.0" />
<text x="368.00" y="210.90" font-size="11.6" font-family='"Liberation Serif", serif' font-weight="bold" text-anchor="middle" fill="#000" textLength="14.20" lengthAdjust="spacingAndGlyphs" >0.2</text>
<text x="397.90" y="210.90" font-size="11.6" font-family='"Liberation Serif", serif' font-weight="bold" text-anchor="middle" fill="#000" textLength="14.20" lengthAdjust="spacingAndGlyphs" >0.3</text>
<text x="427.80" y="210.90" font-size="11.6" font-family='"Liberation Serif", serif' font-weight="bold" text-anchor="middle" fill="#000" textLength="14.20" lengthAdjust="spacingAndGlyphs" >0.4</text>
<text x="457.70" y="210.90" font-size="11.6" font-family='"Liberation Serif", serif' font-weight="bold" text-anchor="middle" fill="#000" textLength="14.20" lengthAdjust="spacingAndGlyphs" >0.5</text>
<text x="487.60" y="210.90" font-size="11.6" font-family='"Liberation Serif", serif' font-weight="bold" text-anchor="middle" fill="#000" textLength="14.20" lengthAdjust="spacingAndGlyphs" >0.6</text>
<text x="517.50" y="210.90" font-size="11.6" font-family='"Liberation Serif", serif' font-weight="bold" text-anchor="middle" fill="#000" textLength="14.20" lengthAdjust="spacingAndGlyphs" >0.7</text>
<line x1="353.50" y1="198.20" x2="357.30" y2="198.20" stroke="#111" stroke-width="1.0" />
<line x1="532.30" y1="198.20" x2="528.50" y2="198.20" stroke="#111" stroke-width="1.0" />
<line x1="353.50" y1="185.42" x2="355.70" y2="185.42" stroke="#111" stroke-width="1.0" />
<line x1="532.30" y1="185.42" x2="530.10" y2="185.42" stroke="#111" stroke-width="1.0" />
<line x1="353.50" y1="172.64" x2="357.30" y2="172.64" stroke="#111" stroke-width="1.0" />
<line x1="532.30" y1="172.64" x2="528.50" y2="172.64" stroke="#111" stroke-width="1.0" />
<line x1="353.50" y1="159.86" x2="355.70" y2="159.86" stroke="#111" stroke-width="1.0" />
<line x1="532.30" y1="159.86" x2="530.10" y2="159.86" stroke="#111" stroke-width="1.0" />
<line x1="353.50" y1="147.08" x2="357.30" y2="147.08" stroke="#111" stroke-width="1.0" />
<line x1="532.30" y1="147.08" x2="528.50" y2="147.08" stroke="#111" stroke-width="1.0" />
<line x1="353.50" y1="134.30" x2="355.70" y2="134.30" stroke="#111" stroke-width="1.0" />
<line x1="532.30" y1="134.30" x2="530.10" y2="134.30" stroke="#111" stroke-width="1.0" />
<line x1="353.50" y1="121.52" x2="357.30" y2="121.52" stroke="#111" stroke-width="1.0" />
<line x1="532.30" y1="121.52" x2="528.50" y2="121.52" stroke="#111" stroke-width="1.0" />
<line x1="353.50" y1="108.74" x2="355.70" y2="108.74" stroke="#111" stroke-width="1.0" />
<line x1="532.30" y1="108.74" x2="530.10" y2="108.74" stroke="#111" stroke-width="1.0" />
<line x1="353.50" y1="95.96" x2="357.30" y2="95.96" stroke="#111" stroke-width="1.0" />
<line x1="532.30" y1="95.96" x2="528.50" y2="95.96" stroke="#111" stroke-width="1.0" />
<line x1="353.50" y1="83.18" x2="355.70" y2="83.18" stroke="#111" stroke-width="1.0" />
<line x1="532.30" y1="83.18" x2="530.10" y2="83.18" stroke="#111" stroke-width="1.0" />
<line x1="353.50" y1="70.40" x2="357.30" y2="70.40" stroke="#111" stroke-width="1.0" />
<line x1="532.30" y1="70.40" x2="528.50" y2="70.40" stroke="#111" stroke-width="1.0" />
<line x1="353.50" y1="57.62" x2="355.70" y2="57.62" stroke="#111" stroke-width="1.0" />
<line x1="532.30" y1="57.62" x2="530.10" y2="57.62" stroke="#111" stroke-width="1.0" />
<line x1="353.50" y1="44.84" x2="357.30" y2="44.84" stroke="#111" stroke-width="1.0" />
<line x1="532.30" y1="44.84" x2="528.50" y2="44.84" stroke="#111" stroke-width="1.0" />
<line x1="353.50" y1="32.06" x2="355.70" y2="32.06" stroke="#111" stroke-width="1.0" />
<line x1="532.30" y1="32.06" x2="530.10" y2="32.06" stroke="#111" stroke-width="1.0" />
<line x1="353.50" y1="19.28" x2="357.30" y2="19.28" stroke="#111" stroke-width="1.0" />
<line x1="532.30" y1="19.28" x2="528.50" y2="19.28" stroke="#111" stroke-width="1.0" />
<text x="348.40" y="200.10" font-size="11.8" font-family='"Liberation Serif", serif' font-weight="bold" text-anchor="end" fill="#000" textLength="14.40" lengthAdjust="spacingAndGlyphs" >0.2</text>
<text x="348.40" y="174.54" font-size="11.8" font-family='"Liberation Serif", serif' font-weight="bold" text-anchor="end" fill="#000" textLength="14.40" lengthAdjust="spacingAndGlyphs" >0.3</text>
<text x="348.40" y="148.98" font-size="11.8" font-family='"Liberation Serif", serif' font-weight="bold" text-anchor="end" fill="#000" textLength="14.40" lengthAdjust="spacingAndGlyphs" >0.4</text>
<text x="348.40" y="123.42" font-size="11.8" font-family='"Liberation Serif", serif' font-weight="bold" text-anchor="end" fill="#000" textLength="14.40" lengthAdjust="spacingAndGlyphs" >0.5</text>
<text x="348.40" y="97.86" font-size="11.8" font-family='"Liberation Serif", serif' font-weight="bold" text-anchor="end" fill="#000" textLength="14.40" lengthAdjust="spacingAndGlyphs" >0.6</text>
<text x="348.40" y="72.30" font-size="11.8" font-family='"Liberation Serif", serif' font-weight="bold" text-anchor="end" fill="#000" textLength="14.40" lengthAdjust="spacingAndGlyphs" >0.7</text>
<text x="348.40" y="46.74" font-size="11.8" font-family='"Liberation Serif", serif' font-weight="bold" text-anchor="end" fill="#000" textLength="14.40" lengthAdjust="spacingAndGlyphs" >0.8</text>
<text x="348.40" y="21.18" font-size="11.8" font-family='"Liberation Serif", serif' font-weight="bold" text-anchor="end" fill="#000" textLength="14.40" lengthAdjust="spacingAndGlyphs" >0.9</text>
<text x="321.70" y="128.80" font-size="15.0" font-family='"Liberation Serif", serif' font-weight="bold" text-anchor="start" fill="#000" textLength="25.00" lengthAdjust="spacingAndGlyphs" transform="rotate(-90 321.70 128.80)" >D/D</text>
<text x="326.60" y="103.40" font-size="10.0" font-family='"Liberation Serif", serif' font-weight="bold" text-anchor="start" fill="#000" textLength="14.60" lengthAdjust="spacingAndGlyphs" transform="rotate(-90 326.60 103.40)" >NC</text>
<text x="436.20" y="225.00" font-size="14.5" font-family='"Liberation Serif", serif' font-weight="bold" text-anchor="start" fill="#000" textLength="6.20" lengthAdjust="spacingAndGlyphs" >f</text>
<text x="441.20" y="230.20" font-size="10.5" font-family='"Liberation Serif", serif' font-weight="bold" text-anchor="start" fill="#000" textLength="7.40" lengthAdjust="spacingAndGlyphs" >A</text>
<clipPath id="cube45523"><polygon points="455.30,23.80 468.60,30.30 468.60,48.90 452.40,55.10 439.50,48.90 439.50,29.10"/></clipPath>
<g clip-path="url(#cube45523)">
<polygon points="455.30,23.80 468.60,30.30 452.40,35.50 439.50,29.10" fill="#ee4426" stroke="none" stroke-width="1" />
<polygon points="439.50,29.10 452.40,35.50 452.40,55.10 439.50,48.90" fill="#e63c22" stroke="none" stroke-width="1" />
<polygon points="452.40,35.50 468.60,30.30 468.60,48.90 452.40,55.10" fill="#e84024" stroke="none" stroke-width="1" />
<ellipse cx="443.60" cy="31.60" rx="3.80" ry="3.00" fill="#1638f0" transform="rotate(-20 443.60 31.60)"/>
<ellipse cx="452.30" cy="31.00" rx="5.00" ry="3.40" fill="#1638f0" transform="rotate(0 452.30 31.00)"/>
<ellipse cx="457.60" cy="28.60" rx="3.60" ry="2.80" fill="#1638f0" transform="rotate(30 457.60 28.60)"/>
<ellipse cx="462.40" cy="35.00" rx="5.60" ry="3.20" fill="#1638f0" transform="rotate(20 462.40 35.00)"/>
<ellipse cx="453.80" cy="40.20" rx="6.60" ry="7.40" fill="#0c24c8" transform="rotate(0 453.80 40.20)"/>
<ellipse cx="445.20" cy="44.00" rx="5.60" ry="3.60" fill="#1638f0" transform="rotate(25 445.20 44.00)"/>
<ellipse cx="452.00" cy="49.80" rx="5.00" ry="3.80" fill="#1638f0" transform="rotate(-20 452.00 49.80)"/>
<ellipse cx="464.80" cy="47.50" rx="3.80" ry="4.20" fill="#1638f0" transform="rotate(30 464.80 47.50)"/>
<ellipse cx="448.50" cy="37.50" rx="3.40" ry="3.80" fill="#1638f0" transform="rotate(0 448.50 37.50)"/>
<ellipse cx="459.00" cy="42.00" rx="3.40" ry="3.40" fill="#1638f0" transform="rotate(0 459.00 42.00)"/>
<polygon points="443.2,42.0 447.6,41.4 445.0,45.2" fill="#f4f4ff"/>
<polygon points="460.2,33.2 464.6,32.4 462.0,35.8" fill="#f4f4ff"/>
</g>
<polygon points="455.30,23.80 468.60,30.30 468.60,48.90 452.40,55.10 439.50,48.90 439.50,29.10" fill="none" stroke="#201018" stroke-width="0.7" />
<polyline points="439.50,29.10 452.40,35.50 468.60,30.30" fill="none" stroke="#201020" stroke-width="0.45" stroke-linejoin="round" />
<line x1="452.40" y1="35.50" x2="452.40" y2="55.10" stroke="#100810" stroke-width="0.6" />
<clipPath id="cube49384"><polygon points="493.60,84.20 507.60,90.70 507.60,110.90 491.30,116.30 476.70,109.20 477.00,89.60"/></clipPath>
<g clip-path="url(#cube49384)">
<polygon points="493.60,84.20 507.60,90.70 491.30,95.70 477.00,89.60" fill="#1a3cf0" stroke="none" stroke-width="1" />
<polygon points="477.00,89.60 491.30,95.70 491.30,116.30 476.70,109.20" fill="#1836e0" stroke="none" stroke-width="1" />
<polygon points="491.30,95.70 507.60,90.70 507.60,110.90 491.30,116.30" fill="#1530d8" stroke="none" stroke-width="1" />
<polygon points="493.00,88.80 505.20,92.80 491.30,97.40 480.20,93.00" fill="#a82a1a" stroke="none" stroke-width="1" />
<polygon points="478.80,93.90 491.30,99.50 491.30,102.40 478.80,96.80" fill="#a82818" stroke="none" stroke-width="1" />
<polygon points="491.30,99.50 505.80,93.90 505.80,96.80 491.30,102.40" fill="#8a2014" stroke="none" stroke-width="1" />
<polygon points="478.80,96.80 491.30,102.40 491.30,103.90 478.80,98.30" fill="#5a140c" stroke="none" stroke-width="1" />
<polygon points="491.30,102.40 505.80,96.80 505.80,98.30 491.30,103.90" fill="#4a100a" stroke="none" stroke-width="1" />
<polygon points="478.80,98.30 491.30,103.90 491.30,106.80 478.80,101.20" fill="#a82818" stroke="none" stroke-width="1" />
<polygon points="491.30,103.90 505.80,98.30 505.80,101.20 491.30,106.80" fill="#8a2014" stroke="none" stroke-width="1" />
<polygon points="478.80,101.20 491.30,106.80 491.30,108.30 478.80,102.70" fill="#5a140c" stroke="none" stroke-width="1" />
<polygon points="491.30,106.80 505.80,101.20 505.80,102.70 491.30,108.30" fill="#4a100a" stroke="none" stroke-width="1" />
<polygon points="478.80,102.70 491.30,108.30 491.30,111.20 478.80,105.60" fill="#a82818" stroke="none" stroke-width="1" />
<polygon points="491.30,108.30 505.80,102.70 505.80,105.60 491.30,111.20" fill="#8a2014" stroke="none" stroke-width="1" />
<polygon points="478.80,105.60 491.30,111.20 491.30,112.70 478.80,107.10" fill="#5a140c" stroke="none" stroke-width="1" />
<polygon points="491.30,111.20 505.80,105.60 505.80,107.10 491.30,112.70" fill="#4a100a" stroke="none" stroke-width="1" />
<polygon points="478.80,107.10 491.30,112.70 491.30,115.60 478.80,110.00" fill="#a82818" stroke="none" stroke-width="1" />
<polygon points="491.30,112.70 505.80,107.10 505.80,110.00 491.30,115.60" fill="#8a2014" stroke="none" stroke-width="1" />
<polygon points="478.80,110.00 491.30,115.60 491.30,117.10 478.80,111.50" fill="#5a140c" stroke="none" stroke-width="1" />
<polygon points="491.30,115.60 505.80,110.00 505.80,111.50 491.30,117.10" fill="#4a100a" stroke="none" stroke-width="1" />
</g>
<polygon points="493.60,84.20 507.60,90.70 507.60,110.90 491.30,116.30 476.70,109.20 477.00,89.60" fill="none" stroke="#201018" stroke-width="0.7" />
<polyline points="477.00,89.60 491.30,95.70 507.60,90.70" fill="none" stroke="#201020" stroke-width="0.45" stroke-linejoin="round" />
<line x1="491.30" y1="95.70" x2="491.30" y2="116.30" stroke="#100810" stroke-width="0.6" />
<clipPath id="cube453119"><polygon points="453.60,119.20 468.70,125.50 468.70,143.60 453.60,150.40 439.80,143.60 439.80,123.80"/></clipPath>
<g clip-path="url(#cube453119)">
<polygon points="453.60,119.20 468.70,125.50 453.60,130.00 439.80,123.80" fill="#1a3cf0" stroke="none" stroke-width="1" />
<polygon points="439.80,123.80 453.60,130.00 453.60,150.40 439.80,143.60" fill="#1836e4" stroke="none" stroke-width="1" />
<polygon points="453.60,130.00 468.70,125.50 468.70,143.60 453.60,150.40" fill="#1530dc" stroke="none" stroke-width="1" />
<ellipse cx="442.50" cy="127.60" rx="2.60" ry="2.90" fill="#e83c1e" transform="rotate(0 442.50 127.60)"/>
<ellipse cx="449.70" cy="126.50" rx="2.30" ry="3.30" fill="#e83c1e" transform="rotate(0 449.70 126.50)"/>
<ellipse cx="457.00" cy="124.20" rx="3.10" ry="2.40" fill="#e83c1e" transform="rotate(20 457.00 124.20)"/>
<ellipse cx="461.80" cy="129.20" rx="4.40" ry="2.70" fill="#e83c1e" transform="rotate(25 461.80 129.20)"/>
<ellipse cx="454.50" cy="134.20" rx="5.80" ry="6.40" fill="#b02412" transform="rotate(0 454.50 134.20)"/>
<ellipse cx="445.50" cy="138.60" rx="5.40" ry="3.20" fill="#e83c1e" transform="rotate(20 445.50 138.60)"/>
<ellipse cx="449.00" cy="144.40" rx="2.90" ry="3.70" fill="#e83c1e" transform="rotate(0 449.00 144.40)"/>
<ellipse cx="464.00" cy="142.80" rx="3.10" ry="3.80" fill="#e83c1e" transform="rotate(30 464.00 142.80)"/>
<ellipse cx="457.50" cy="142.80" rx="2.30" ry="2.90" fill="#e83c1e" transform="rotate(0 457.50 142.80)"/>
<ellipse cx="452.00" cy="131.00" rx="3.30" ry="2.80" fill="#e83c1e" transform="rotate(0 452.00 131.00)"/>
<polygon points="443.8,137.0 448.0,136.4 445.6,140.4" fill="#fff4f0"/>
<polygon points="458.6,127.4 462.6,126.8 460.4,130.4" fill="#fff4f0"/>
</g>
<polygon points="453.60,119.20 468.70,125.50 468.70,143.60 453.60,150.40 439.80,143.60 439.80,123.80" fill="none" stroke="#201018" stroke-width="0.7" />
<polyline points="439.80,123.80 453.60,130.00 468.70,125.50" fill="none" stroke="#201020" stroke-width="0.45" stroke-linejoin="round" />
<line x1="453.60" y1="130.00" x2="453.60" y2="150.40" stroke="#100810" stroke-width="0.6" />
<clipPath id="cube423156"><polygon points="423.60,156.20 437.80,162.90 437.80,181.80 421.00,188.20 407.30,181.40 407.30,162.00"/></clipPath>
<g clip-path="url(#cube423156)">
<polygon points="423.60,156.20 437.80,162.90 421.00,168.00 407.30,162.00" fill="#ee4a28" stroke="none" stroke-width="1" />
<polygon points="407.30,162.00 421.00,168.00 421.00,188.20 407.30,181.40" fill="#e84424" stroke="none" stroke-width="1" />
<polygon points="421.00,168.00 437.80,162.90 437.80,181.80 421.00,188.20" fill="#e44020" stroke="none" stroke-width="1" />
<polygon points="407.30,162.00 423.60,156.20 425.50,157.10 409.50,163.00" fill="#1a3cf0" stroke="none" stroke-width="1" />
<polygon points="430.00,160.50 437.80,162.90 436.00,163.60 429.00,161.40" fill="#1a3cf0" stroke="none" stroke-width="1" />
<polygon points="430.50,168.00 437.80,165.00 437.80,174.50 431.00,177.00" fill="#1a3cf0" stroke="none" stroke-width="1" />
<polygon points="421.00,186.00 437.80,179.50 437.80,181.80 421.00,188.20" fill="#1a3cf0" stroke="none" stroke-width="1" />
<line x1="421.50" y1="176.50" x2="437.80" y2="170.00" stroke="#8a1a0e" stroke-width="1.0" />
<line x1="421.50" y1="179.00" x2="431.00" y2="175.30" stroke="#c02a14" stroke-width="0.7" />
<line x1="412.00" y1="164.50" x2="426.00" y2="159.00" stroke="#b82814" stroke-width="0.8" />
<line x1="417.00" y1="166.50" x2="431.00" y2="161.00" stroke="#b82814" stroke-width="0.8" />
<polygon points="407.30,174.00 409.50,175.50 410.00,182.50 407.30,181.40" fill="#1a3cf0" stroke="none" stroke-width="1" />
<polygon points="407.30,162.00 410.50,163.40 408.50,166.00 407.30,165.50" fill="#1a3cf0" stroke="none" stroke-width="1" />
<polygon points="418.00,186.50 421.00,188.20 421.00,184.00" fill="#1a3cf0" stroke="none" stroke-width="1" />
<ellipse cx="410.80" cy="168.80" rx="3.0" ry="3.1" fill="#e84424" stroke="#9a2010" stroke-width="0.8"/>
<ellipse cx="410.50" cy="168.80" rx="1.3" ry="1.4" fill="#b02a14"/>
<ellipse cx="417.40" cy="171.40" rx="3.0" ry="3.1" fill="#e84424" stroke="#9a2010" stroke-width="0.8"/>
<ellipse cx="417.10" cy="171.40" rx="1.3" ry="1.4" fill="#b02a14"/>
<ellipse cx="410.80" cy="177.60" rx="3.0" ry="3.1" fill="#e84424" stroke="#9a2010" stroke-width="0.8"/>
<ellipse cx="410.50" cy="177.60" rx="1.3" ry="1.4" fill="#b02a14"/>
<ellipse cx="417.40" cy="180.60" rx="3.0" ry="3.1" fill="#e84424" stroke="#9a2010" stroke-width="0.8"/>
<ellipse cx="417.10" cy="180.60" rx="1.3" ry="1.4" fill="#b02a14"/>
</g>
<polygon points="423.60,156.20 437.80,162.90 437.80,181.80 421.00,188.20 407.30,181.40 407.30,162.00" fill="none" stroke="#201018" stroke-width="0.7" />
<polyline points="407.30,162.00 421.00,168.00 437.80,162.90" fill="none" stroke="#201020" stroke-width="0.45" stroke-linejoin="round" />
<line x1="421.00" y1="168.00" x2="421.00" y2="188.20" stroke="#100810" stroke-width="0.6" />
<polyline points="457.20,60.20 472.30,57.00 487.10,51.00 502.20,45.60 517.80,43.90" fill="none" stroke="#222" stroke-width="0.8" stroke-linejoin="round" />
<polygon points="454.10,57.70 460.30,57.70 457.20,62.70" fill="#fff" stroke="#555" stroke-width="0.8" />
<polygon points="469.20,54.50 475.40,54.50 472.30,59.50" fill="#fff" stroke="#555" stroke-width="0.8" />
<polygon points="484.00,48.50 490.20,48.50 487.10,53.50" fill="#fff" stroke="#555" stroke-width="0.8" />
<polygon points="499.10,43.10 505.30,43.10 502.20,48.10" fill="#fff" stroke="#555" stroke-width="0.8" />
<polygon points="514.70,41.40 520.90,41.40 517.80,46.40" fill="#fff" stroke="#555" stroke-width="0.8" />
<polyline points="412.80,79.50 427.60,79.50 442.70,79.40 457.20,79.20 472.30,80.10 487.10,78.30 502.20,79.70" fill="none" stroke="#222" stroke-width="0.8" stroke-linejoin="round" />
<rect x="410.30" y="77.00" width="5.00" height="5.00" fill="#000" stroke="none" stroke-width="1" />
<rect x="425.10" y="77.00" width="5.00" height="5.00" fill="#000" stroke="none" stroke-width="1" />
<rect x="440.20" y="76.90" width="5.00" height="5.00" fill="#000" stroke="none" stroke-width="1" />
<rect x="454.70" y="76.70" width="5.00" height="5.00" fill="#000" stroke="none" stroke-width="1" />
<rect x="469.80" y="77.60" width="5.00" height="5.00" fill="#000" stroke="none" stroke-width="1" />
<rect x="484.60" y="75.80" width="5.00" height="5.00" fill="#000" stroke="none" stroke-width="1" />
<rect x="499.70" y="77.20" width="5.00" height="5.00" fill="#000" stroke="none" stroke-width="1" />
<polyline points="397.70,128.40 413.20,122.60 427.80,119.20 442.90,115.60 457.80,110.90" fill="none" stroke="#222" stroke-width="0.8" stroke-linejoin="round" />
<polygon points="394.90,130.70 400.50,130.70 397.70,126.10" fill="#000" stroke="#000" stroke-width="0.6" />
<polygon points="410.40,124.90 416.00,124.90 413.20,120.30" fill="#000" stroke="#000" stroke-width="0.6" />
<polygon points="425.00,121.50 430.60,121.50 427.80,116.90" fill="#000" stroke="#000" stroke-width="0.6" />
<polygon points="440.10,117.90 445.70,117.90 442.90,113.30" fill="#000" stroke="#000" stroke-width="0.6" />
<polygon points="455.00,113.20 460.60,113.20 457.80,108.60" fill="#000" stroke="#000" stroke-width="0.6" />
<polyline points="368.00,163.50 383.40,164.40 398.30,164.40" fill="none" stroke="#222" stroke-width="0.8" stroke-linejoin="round" />
<circle cx="368.00" cy="163.50" r="2.2" fill="#000"/>
<circle cx="383.40" cy="164.40" r="2.2" fill="#000"/>
<circle cx="398.30" cy="164.40" r="2.2" fill="#000"/>
<line x1="476.50" y1="129.30" x2="493.20" y2="129.30" stroke="#111" stroke-width="1.1" />
<line x1="476.50" y1="149.60" x2="493.20" y2="149.60" stroke="#111" stroke-width="1.1" />
<line x1="476.50" y1="164.70" x2="493.20" y2="164.70" stroke="#111" stroke-width="1.1" />
<line x1="476.50" y1="184.30" x2="493.20" y2="184.30" stroke="#111" stroke-width="1.1" />
<polygon points="481.90,126.70 488.30,126.70 485.10,131.90" fill="#fff" stroke="#333" stroke-width="0.9" />
<rect x="482.50" y="147.00" width="5.20" height="5.20" fill="#000" stroke="none" stroke-width="1" />
<polygon points="482.00,166.80 488.20,166.80 485.10,161.80" fill="#000" stroke="#000" stroke-width="0.6" />
<circle cx="485.1" cy="184.3" r="2.6" fill="#000"/>
<text x="495.60" y="135.00" font-size="13.5" font-family='"Liberation Serif", serif' font-weight="normal" text-anchor="start" fill="#111" textLength="9.60" lengthAdjust="spacingAndGlyphs" >G</text>
<text x="505.00" y="139.20" font-size="8.8" font-family='"Liberation Serif", serif' font-weight="normal" text-anchor="start" fill="#111" textLength="19.80" lengthAdjust="spacingAndGlyphs" >outer</text>
<text x="495.60" y="155.60" font-size="13.5" font-family='"Liberation Serif", serif' font-weight="normal" text-anchor="start" fill="#111" textLength="8.00" lengthAdjust="spacingAndGlyphs" >L</text>
<text x="495.60" y="171.00" font-size="13.5" font-family='"Liberation Serif", serif' font-weight="normal" text-anchor="start" fill="#111" textLength="9.60" lengthAdjust="spacingAndGlyphs" >G</text>
<text x="505.00" y="175.20" font-size="8.8" font-family='"Liberation Serif", serif' font-weight="normal" text-anchor="start" fill="#111" textLength="19.80" lengthAdjust="spacingAndGlyphs" >inner</text>
<text x="495.60" y="190.00" font-size="13.5" font-family='"Liberation Serif", serif' font-weight="normal" text-anchor="start" fill="#111" textLength="9.00" lengthAdjust="spacingAndGlyphs" >C</text>
<text x="0.90" y="251.00" font-size="18.4" font-family='"Liberation Sans", sans-serif' font-weight="bold" text-anchor="start" fill="#000" >c</text>
<line x1="38.30" y1="250.90" x2="235.10" y2="250.90" stroke="#333" stroke-width="1.1" />
<line x1="235.10" y1="250.90" x2="235.10" y2="481.60" stroke="#444" stroke-width="1.1" />
<line x1="38.30" y1="250.40" x2="38.30" y2="481.60" stroke="#111" stroke-width="1.4" />
<line x1="37.60" y1="481.80" x2="235.60" y2="481.80" stroke="#000" stroke-width="2.0" />
<line x1="38.30" y1="461.20" x2="45.90" y2="461.20" stroke="#222" stroke-width="1.3" />
<line x1="38.30" y1="440.16" x2="45.90" y2="440.16" stroke="#222" stroke-width="1.3" />
<line x1="38.30" y1="419.12" x2="45.90" y2="419.12" stroke="#222" stroke-width="1.3" />
<line x1="38.30" y1="398.08" x2="45.90" y2="398.08" stroke="#222" stroke-width="1.3" />
<line x1="38.30" y1="377.04" x2="45.90" y2="377.04" stroke="#222" stroke-width="1.3" />
<line x1="38.30" y1="356.00" x2="45.90" y2="356.00" stroke="#222" stroke-width="1.3" />
<line x1="38.30" y1="334.96" x2="45.90" y2="334.96" stroke="#222" stroke-width="1.3" />
<line x1="38.30" y1="313.92" x2="45.90" y2="313.92" stroke="#222" stroke-width="1.3" />
<line x1="38.30" y1="292.88" x2="45.90" y2="292.88" stroke="#222" stroke-width="1.3" />
<line x1="38.30" y1="271.84" x2="45.90" y2="271.84" stroke="#222" stroke-width="1.3" />
<line x1="70.80" y1="481.60" x2="70.80" y2="478.40" stroke="#111" stroke-width="1.2" />
<line x1="103.60" y1="481.60" x2="103.60" y2="476.60" stroke="#111" stroke-width="1.2" />
<line x1="136.40" y1="481.60" x2="136.40" y2="478.40" stroke="#111" stroke-width="1.2" />
<line x1="169.20" y1="481.60" x2="169.20" y2="476.60" stroke="#111" stroke-width="1.2" />
<line x1="202.00" y1="481.60" x2="202.00" y2="478.40" stroke="#111" stroke-width="1.2" />
<line x1="234.80" y1="481.60" x2="234.80" y2="476.60" stroke="#111" stroke-width="1.2" />
<text x="38.00" y="497.60" font-size="12.1" font-family='"Liberation Sans", sans-serif' font-weight="normal" text-anchor="middle" fill="#111" textLength="15.20" lengthAdjust="spacingAndGlyphs" >0.0</text>
<text x="103.60" y="497.60" font-size="12.1" font-family='"Liberation Sans", sans-serif' font-weight="normal" text-anchor="middle" fill="#111" textLength="15.20" lengthAdjust="spacingAndGlyphs" >1.0</text>
<text x="169.20" y="497.60" font-size="12.1" font-family='"Liberation Sans", sans-serif' font-weight="normal" text-anchor="middle" fill="#111" textLength="15.20" lengthAdjust="spacingAndGlyphs" >2.0</text>
<text x="234.80" y="497.60" font-size="12.1" font-family='"Liberation Sans", sans-serif' font-weight="normal" text-anchor="middle" fill="#111" textLength="15.20" lengthAdjust="spacingAndGlyphs" >3.0</text>
<text x="116.00" y="517.60" font-size="13.0" font-family='"Liberation Sans", sans-serif' font-weight="normal" text-anchor="start" fill="#111" textLength="32.20" lengthAdjust="spacingAndGlyphs" >q (nm</text>
<text x="149.00" y="509.00" font-size="9.0" font-family='"Liberation Sans", sans-serif' font-weight="normal" text-anchor="start" fill="#111" textLength="7.60" lengthAdjust="spacingAndGlyphs" >-1</text>
<text x="157.40" y="517.60" font-size="13.0" font-family='"Liberation Sans", sans-serif' font-weight="normal" text-anchor="start" fill="#111" textLength="4.20" lengthAdjust="spacingAndGlyphs" >)</text>
<text x="27.80" y="420.20" font-size="13.0" font-family='"Liberation Sans", sans-serif' font-weight="normal" text-anchor="start" fill="#111" textLength="111.00" lengthAdjust="spacingAndGlyphs" transform="rotate(-90 27.80 420.20)" >Log Intensity (a. u.)</text>
<line x1="92.40" y1="251.40" x2="92.40" y2="480.60" stroke="#333" stroke-width="1.2" stroke-dasharray="5.5 3"/>
<path d="M42.40,405.50 L42.54,406.37 L42.73,407.58 L42.96,409.02 L43.22,410.53 L43.50,412.00 L43.82,413.47 L44.20,415.02 L44.59,416.60 L44.97,418.11 L45.30,419.50 L45.58,420.75 L45.81,421.90 L46.03,422.98 L46.26,424.00 L46.50,425.00 L46.76,425.96 L47.04,426.87 L47.32,427.74 L47.60,428.58 L47.90,429.40 L48.21,430.22 L48.53,431.03 L48.86,431.81 L49.18,432.54 L49.50,433.20 L49.81,433.79 L50.12,434.31 L50.42,434.78 L50.71,435.21 L51.00,435.60 L51.27,435.96 L51.53,436.28 L51.79,436.55 L52.04,436.79 L52.30,437.00 L52.55,437.17 L52.78,437.30 L53.02,437.40 L53.28,437.47 L53.60,437.50 L53.98,437.49 L54.42,437.44 L54.88,437.36 L55.35,437.27 L55.80,437.20 L56.25,437.13 L56.71,437.05 L57.17,436.98 L57.60,436.92 L58.00,436.90 L58.35,436.91 L58.66,436.95 L58.94,437.01 L59.22,437.09 L59.50,437.20 L59.78,437.32 L60.04,437.46 L60.31,437.62 L60.59,437.83 L60.90,438.10 L61.25,438.44 L61.62,438.85 L62.02,439.30 L62.41,439.75 L62.80,440.20 L63.17,440.62 L63.52,441.04 L63.88,441.47 L64.27,441.92 L64.70,442.40 L65.19,442.93 L65.72,443.50 L66.28,444.08 L66.85,444.66 L67.40,445.20 L67.94,445.72 L68.49,446.24 L69.04,446.73 L69.58,447.19 L70.10,447.60 L70.60,447.96 L71.10,448.27 L71.58,448.54 L72.04,448.78 L72.50,449.00 L72.93,449.18 L73.35,449.30 L73.75,449.41 L74.17,449.53 L74.60,449.70 L75.02,449.93 L75.41,450.21 L75.84,450.50 L76.35,450.78 L77.00,451.00 L77.84,451.18 L78.84,451.33 L79.91,451.45 L80.99,451.54 L82.00,451.60 L82.96,451.62 L83.91,451.61 L84.83,451.56 L85.70,451.49 L86.50,451.40 L87.22,451.29 L87.87,451.15 L88.47,450.99 L89.01,450.81 L89.50,450.60 L89.93,450.36 L90.30,450.07 L90.63,449.77 L90.92,449.48 L91.20,449.20 L91.46,448.91 L91.68,448.59 L91.89,448.30 L92.09,448.08 L92.30,448.00 L92.51,448.08 L92.71,448.28 L92.91,448.56 L93.14,448.88 L93.40,449.20 L93.70,449.51 L94.02,449.85 L94.37,450.21 L94.76,450.59 L95.20,451.00 L95.68,451.44 L96.19,451.91 L96.75,452.40 L97.35,452.90 L98.00,453.40 L98.69,453.91 L99.42,454.44 L100.20,454.96 L101.05,455.49 L102.00,456.00 L103.07,456.50 L104.26,457.00 L105.50,457.49 L106.77,457.96 L108.00,458.40 L109.17,458.80 L110.30,459.17 L111.46,459.52 L112.67,459.86 L114.00,460.20 L115.44,460.53 L116.96,460.84 L118.56,461.16 L120.24,461.47 L122.00,461.80 L123.82,462.15 L125.71,462.52 L127.69,462.89 L129.78,463.26 L132.00,463.60 L134.38,463.92 L136.89,464.24 L139.51,464.54 L142.22,464.82 L145.00,465.10 L147.71,465.36 L150.38,465.59 L153.18,465.82 L156.33,466.05 L160.00,466.30 L164.36,466.58 L169.28,466.87 L174.52,467.17 L179.84,467.46 L185.00,467.70 L190.00,467.90 L195.00,468.08 L200.00,468.23 L205.00,468.37 L210.00,468.50 L215.40,468.63 L221.20,468.75 L226.80,468.85 L231.60,468.94 L235.00,469.00" fill="none" stroke="#111111" stroke-width="1.5" stroke-linejoin="round"/>
<path d="M91.30,448.80 L91.90,443.00 L92.30,420.00 L92.70,443.00 L93.30,448.80" fill="none" stroke="#111111" stroke-width="1.5" stroke-linejoin="round"/>
<text x="230.10" y="464.60" font-size="12.6" font-family='"Liberation Sans", sans-serif' font-weight="normal" text-anchor="end" fill="#111" textLength="39.00" lengthAdjust="spacingAndGlyphs" >100 °C</text>
<path d="M42.40,373.00 L42.54,373.87 L42.73,375.08 L42.96,376.52 L43.22,378.03 L43.50,379.50 L43.82,380.97 L44.20,382.52 L44.59,384.10 L44.97,385.61 L45.30,387.00 L45.58,388.25 L45.81,389.40 L46.03,390.48 L46.26,391.50 L46.50,392.50 L46.76,393.46 L47.04,394.37 L47.32,395.24 L47.60,396.08 L47.90,396.90 L48.21,397.72 L48.53,398.53 L48.86,399.31 L49.18,400.04 L49.50,400.70 L49.81,401.29 L50.12,401.81 L50.42,402.28 L50.71,402.71 L51.00,403.10 L51.27,403.46 L51.53,403.78 L51.79,404.05 L52.04,404.29 L52.30,404.50 L52.55,404.67 L52.78,404.80 L53.02,404.90 L53.28,404.97 L53.60,405.00 L53.98,404.99 L54.42,404.94 L54.88,404.86 L55.35,404.77 L55.80,404.70 L56.25,404.63 L56.71,404.55 L57.17,404.48 L57.60,404.42 L58.00,404.40 L58.35,404.41 L58.66,404.45 L58.94,404.51 L59.22,404.59 L59.50,404.70 L59.78,404.82 L60.04,404.96 L60.31,405.12 L60.59,405.33 L60.90,405.60 L61.25,405.94 L61.62,406.35 L62.02,406.80 L62.41,407.25 L62.80,407.70 L63.17,408.12 L63.52,408.54 L63.88,408.97 L64.27,409.42 L64.70,409.90 L65.19,410.43 L65.72,411.00 L66.28,411.58 L66.85,412.16 L67.40,412.70 L67.94,413.22 L68.49,413.74 L69.04,414.23 L69.58,414.69 L70.10,415.10 L70.60,415.46 L71.10,415.77 L71.58,416.04 L72.04,416.28 L72.50,416.50 L72.93,416.69 L73.35,416.85 L73.75,416.98 L74.17,417.10 L74.60,417.20 L75.02,417.29 L75.41,417.35 L75.84,417.41 L76.35,417.45 L77.00,417.50 L77.84,417.56 L78.84,417.62 L79.91,417.67 L80.99,417.70 L82.00,417.70 L82.96,417.66 L83.91,417.60 L84.83,417.52 L85.70,417.42 L86.50,417.30 L87.22,417.17 L87.87,417.03 L88.47,416.87 L89.01,416.69 L89.50,416.50 L89.93,416.29 L90.30,416.06 L90.63,415.81 L90.92,415.56 L91.20,415.30 L91.46,414.99 L91.68,414.62 L91.89,414.27 L92.09,414.00 L92.30,413.90 L92.51,413.99 L92.71,414.23 L92.91,414.56 L93.14,414.94 L93.40,415.30 L93.70,415.66 L94.02,416.04 L94.37,416.44 L94.76,416.86 L95.20,417.30 L95.68,417.75 L96.19,418.21 L96.75,418.69 L97.35,419.19 L98.00,419.70 L98.69,420.24 L99.42,420.80 L100.20,421.38 L101.05,421.95 L102.00,422.50 L103.07,423.04 L104.26,423.57 L105.50,424.10 L106.77,424.61 L108.00,425.10 L109.17,425.57 L110.30,426.02 L111.46,426.45 L112.67,426.88 L114.00,427.30 L115.44,427.72 L116.96,428.12 L118.56,428.52 L120.24,428.92 L122.00,429.30 L123.82,429.68 L125.71,430.05 L127.69,430.41 L129.78,430.76 L132.00,431.10 L134.38,431.42 L136.89,431.74 L139.51,432.04 L142.22,432.32 L145.00,432.60 L147.71,432.86 L150.38,433.09 L153.18,433.32 L156.33,433.55 L160.00,433.80 L164.36,434.08 L169.28,434.37 L174.52,434.67 L179.84,434.96 L185.00,435.20 L190.00,435.40 L195.00,435.58 L200.00,435.73 L205.00,435.87 L210.00,436.00 L215.40,436.13 L221.20,436.25 L226.80,436.35 L231.60,436.44 L235.00,436.50" fill="none" stroke="#701a1c" stroke-width="1.4" stroke-linejoin="round"/>
<path d="M91.30,414.70 L91.90,408.90 L92.30,383.50 L92.70,408.90 L93.30,414.70" fill="none" stroke="#701a1c" stroke-width="1.4" stroke-linejoin="round"/>
<text x="230.10" y="431.40" font-size="12.6" font-family='"Liberation Sans", sans-serif' font-weight="normal" text-anchor="end" fill="#111" textLength="39.00" lengthAdjust="spacingAndGlyphs" >105 °C</text>
<path d="M42.40,340.50 L42.54,341.37 L42.73,342.58 L42.96,344.02 L43.22,345.53 L43.50,347.00 L43.82,348.47 L44.20,350.02 L44.59,351.60 L44.97,353.11 L45.30,354.50 L45.58,355.75 L45.81,356.90 L46.03,357.98 L46.26,359.00 L46.50,360.00 L46.76,360.96 L47.04,361.87 L47.32,362.74 L47.60,363.58 L47.90,364.40 L48.21,365.22 L48.53,366.03 L48.86,366.81 L49.18,367.54 L49.50,368.20 L49.81,368.79 L50.12,369.31 L50.42,369.78 L50.71,370.21 L51.00,370.60 L51.27,370.96 L51.53,371.28 L51.79,371.55 L52.04,371.79 L52.30,372.00 L52.55,372.17 L52.78,372.30 L53.02,372.40 L53.28,372.47 L53.60,372.50 L53.98,372.49 L54.42,372.44 L54.88,372.36 L55.35,372.27 L55.80,372.20 L56.25,372.13 L56.71,372.05 L57.17,371.98 L57.60,371.92 L58.00,371.90 L58.35,371.91 L58.66,371.95 L58.94,372.01 L59.22,372.09 L59.50,372.20 L59.78,372.32 L60.04,372.46 L60.31,372.62 L60.59,372.83 L60.90,373.10 L61.25,373.44 L61.62,373.85 L62.02,374.30 L62.41,374.75 L62.80,375.20 L63.17,375.62 L63.52,376.04 L63.88,376.47 L64.27,376.92 L64.70,377.40 L65.19,377.93 L65.72,378.50 L66.28,379.08 L66.85,379.66 L67.40,380.20 L67.94,380.72 L68.49,381.24 L69.04,381.73 L69.58,382.19 L70.10,382.60 L70.60,382.96 L71.10,383.27 L71.58,383.54 L72.04,383.78 L72.50,384.00 L72.93,384.18 L73.35,384.33 L73.75,384.45 L74.17,384.57 L74.60,384.70 L75.02,384.85 L75.41,385.02 L75.84,385.18 L76.35,385.32 L77.00,385.40 L77.84,385.43 L78.84,385.41 L79.91,385.37 L80.99,385.29 L82.00,385.20 L82.96,385.08 L83.91,384.94 L84.83,384.78 L85.70,384.60 L86.50,384.40 L87.22,384.19 L87.87,383.96 L88.47,383.71 L89.01,383.46 L89.50,383.20 L89.93,382.93 L90.30,382.65 L90.63,382.37 L90.92,382.08 L91.20,381.80 L91.46,381.48 L91.68,381.11 L91.89,380.76 L92.09,380.50 L92.30,380.40 L92.51,380.49 L92.71,380.72 L92.91,381.05 L93.14,381.42 L93.40,381.80 L93.70,382.18 L94.02,382.60 L94.37,383.05 L94.76,383.52 L95.20,384.00 L95.68,384.49 L96.19,385.00 L96.75,385.53 L97.35,386.06 L98.00,386.60 L98.69,387.15 L99.42,387.71 L100.20,388.27 L101.05,388.84 L102.00,389.40 L103.07,389.97 L104.26,390.54 L105.50,391.11 L106.77,391.67 L108.00,392.20 L109.17,392.71 L110.30,393.20 L111.46,393.67 L112.67,394.14 L114.00,394.60 L115.44,395.06 L116.96,395.51 L118.56,395.96 L120.24,396.39 L122.00,396.80 L123.82,397.19 L125.71,397.56 L127.69,397.92 L129.78,398.27 L132.00,398.60 L134.38,398.92 L136.89,399.24 L139.51,399.54 L142.22,399.82 L145.00,400.10 L147.71,400.36 L150.38,400.59 L153.18,400.82 L156.33,401.05 L160.00,401.30 L164.36,401.58 L169.28,401.87 L174.52,402.17 L179.84,402.46 L185.00,402.70 L190.00,402.90 L195.00,403.08 L200.00,403.23 L205.00,403.37 L210.00,403.50 L215.40,403.63 L221.20,403.75 L226.80,403.85 L231.60,403.94 L235.00,404.00" fill="none" stroke="#d61c2c" stroke-width="1.4" stroke-linejoin="round"/>
<path d="M91.30,381.20 L91.90,375.40 L92.30,353.00 L92.70,375.40 L93.30,381.20" fill="none" stroke="#d61c2c" stroke-width="1.4" stroke-linejoin="round"/>
<text x="230.10" y="398.10" font-size="12.6" font-family='"Liberation Sans", sans-serif' font-weight="normal" text-anchor="end" fill="#111" textLength="39.00" lengthAdjust="spacingAndGlyphs" >108 °C</text>
<path d="M42.40,306.20 L42.54,307.07 L42.73,308.28 L42.96,309.72 L43.22,311.23 L43.50,312.70 L43.82,314.17 L44.20,315.72 L44.59,317.30 L44.97,318.81 L45.30,320.20 L45.58,321.45 L45.81,322.60 L46.03,323.68 L46.26,324.70 L46.50,325.70 L46.76,326.66 L47.04,327.57 L47.32,328.44 L47.60,329.28 L47.90,330.10 L48.21,330.92 L48.53,331.73 L48.86,332.51 L49.18,333.24 L49.50,333.90 L49.81,334.49 L50.12,335.01 L50.42,335.48 L50.71,335.91 L51.00,336.30 L51.27,336.66 L51.53,336.98 L51.79,337.25 L52.04,337.49 L52.30,337.70 L52.55,337.87 L52.78,338.00 L53.02,338.10 L53.28,338.17 L53.60,338.20 L53.98,338.19 L54.42,338.14 L54.88,338.06 L55.35,337.97 L55.80,337.90 L56.25,337.83 L56.71,337.75 L57.17,337.68 L57.60,337.62 L58.00,337.60 L58.35,337.61 L58.66,337.65 L58.94,337.71 L59.22,337.79 L59.50,337.90 L59.78,338.02 L60.04,338.16 L60.31,338.32 L60.59,338.53 L60.90,338.80 L61.25,339.14 L61.62,339.55 L62.02,340.00 L62.41,340.45 L62.80,340.90 L63.17,341.32 L63.52,341.74 L63.88,342.17 L64.27,342.62 L64.70,343.10 L65.19,343.63 L65.72,344.20 L66.28,344.78 L66.85,345.36 L67.40,345.90 L67.94,346.42 L68.49,346.94 L69.04,347.43 L69.58,347.89 L70.10,348.30 L70.60,348.66 L71.10,348.97 L71.58,349.24 L72.04,349.48 L72.50,349.70 L72.93,349.89 L73.35,350.05 L73.75,350.18 L74.17,350.30 L74.60,350.40 L75.02,350.51 L75.41,350.61 L75.84,350.69 L76.35,350.73 L77.00,350.70 L77.84,350.60 L78.84,350.45 L79.91,350.25 L80.99,350.00 L82.00,349.70 L82.96,349.33 L83.91,348.90 L84.83,348.42 L85.70,347.95 L86.50,347.50 L87.22,347.08 L87.87,346.67 L88.47,346.26 L89.01,345.87 L89.50,345.50 L89.93,345.15 L90.30,344.81 L90.63,344.49 L90.92,344.19 L91.20,343.90 L91.46,343.59 L91.68,343.27 L91.89,342.97 L92.09,342.77 L92.30,342.70 L92.51,342.79 L92.71,343.01 L92.91,343.31 L93.14,343.69 L93.40,344.10 L93.70,344.56 L94.02,345.09 L94.37,345.67 L94.76,346.28 L95.20,346.90 L95.68,347.54 L96.19,348.23 L96.75,348.93 L97.35,349.62 L98.00,350.30 L98.69,350.95 L99.42,351.58 L100.20,352.22 L101.05,352.85 L102.00,353.50 L103.07,354.18 L104.26,354.87 L105.50,355.57 L106.77,356.26 L108.00,356.90 L109.17,357.50 L110.30,358.06 L111.46,358.61 L112.67,359.15 L114.00,359.70 L115.44,360.28 L116.96,360.87 L118.56,361.45 L120.24,362.00 L122.00,362.50 L123.82,362.93 L125.71,363.31 L127.69,363.65 L129.78,363.98 L132.00,364.30 L134.38,364.62 L136.89,364.94 L139.51,365.24 L142.22,365.52 L145.00,365.80 L147.71,366.06 L150.38,366.29 L153.18,366.52 L156.33,366.75 L160.00,367.00 L164.36,367.28 L169.28,367.57 L174.52,367.87 L179.84,368.16 L185.00,368.40 L190.00,368.60 L195.00,368.78 L200.00,368.93 L205.00,369.07 L210.00,369.20 L215.40,369.33 L221.20,369.45 L226.80,369.55 L231.60,369.64 L235.00,369.70" fill="none" stroke="#e81a30" stroke-width="1.4" stroke-linejoin="round"/>
<path d="M91.30,343.50 L91.90,337.70 L92.30,319.40 L92.70,337.70 L93.30,343.50" fill="none" stroke="#e81a30" stroke-width="1.4" stroke-linejoin="round"/>
<text x="230.10" y="365.30" font-size="12.6" font-family='"Liberation Sans", sans-serif' font-weight="normal" text-anchor="end" fill="#111" textLength="39.00" lengthAdjust="spacingAndGlyphs" >111 °C</text>
<path d="M42.40,274.90 L42.54,275.77 L42.73,276.98 L42.96,278.42 L43.22,279.93 L43.50,281.40 L43.82,282.87 L44.20,284.42 L44.59,286.00 L44.97,287.51 L45.30,288.90 L45.58,290.15 L45.81,291.30 L46.03,292.38 L46.26,293.40 L46.50,294.40 L46.76,295.36 L47.04,296.27 L47.32,297.14 L47.60,297.98 L47.90,298.80 L48.21,299.62 L48.53,300.43 L48.86,301.21 L49.18,301.94 L49.50,302.60 L49.81,303.19 L50.12,303.71 L50.42,304.18 L50.71,304.61 L51.00,305.00 L51.27,305.36 L51.53,305.68 L51.79,305.95 L52.04,306.19 L52.30,306.40 L52.55,306.57 L52.78,306.70 L53.02,306.80 L53.28,306.87 L53.60,306.90 L53.98,306.89 L54.42,306.84 L54.88,306.76 L55.35,306.67 L55.80,306.60 L56.25,306.53 L56.71,306.45 L57.17,306.38 L57.60,306.32 L58.00,306.30 L58.35,306.31 L58.66,306.35 L58.94,306.41 L59.22,306.49 L59.50,306.60 L59.78,306.72 L60.04,306.86 L60.31,307.02 L60.59,307.23 L60.90,307.50 L61.25,307.84 L61.62,308.25 L62.02,308.70 L62.41,309.15 L62.80,309.60 L63.17,310.02 L63.52,310.44 L63.88,310.87 L64.27,311.32 L64.70,311.80 L65.19,312.33 L65.72,312.90 L66.28,313.48 L66.85,314.06 L67.40,314.60 L67.94,315.12 L68.49,315.64 L69.04,316.13 L69.58,316.59 L70.10,317.00 L70.60,317.36 L71.10,317.67 L71.58,317.94 L72.04,318.18 L72.50,318.40 L72.95,318.60 L73.40,318.79 L73.82,318.94 L74.23,319.05 L74.60,319.10 L74.88,319.08 L75.09,319.00 L75.29,318.88 L75.56,318.74 L76.00,318.60 L76.63,318.48 L77.41,318.37 L78.28,318.24 L79.16,318.05 L80.00,317.80 L80.82,317.45 L81.65,317.02 L82.47,316.55 L83.26,316.06 L84.00,315.60 L84.67,315.17 L85.30,314.74 L85.88,314.31 L86.45,313.87 L87.00,313.40 L87.54,312.90 L88.07,312.37 L88.58,311.83 L89.06,311.30 L89.50,310.80 L89.90,310.32 L90.27,309.86 L90.60,309.42 L90.91,309.00 L91.20,308.60 L91.46,308.19 L91.68,307.77 L91.89,307.40 L92.09,307.12 L92.30,307.00 L92.51,307.08 L92.72,307.33 L92.92,307.68 L93.15,308.06 L93.40,308.40 L93.65,308.67 L93.90,308.92 L94.18,309.19 L94.53,309.54 L95.00,310.00 L95.63,310.63 L96.39,311.38 L97.22,312.20 L98.04,313.03 L98.80,313.80 L99.47,314.51 L100.11,315.20 L100.73,315.87 L101.35,316.54 L102.00,317.20 L102.66,317.84 L103.33,318.46 L104.01,319.07 L104.73,319.71 L105.50,320.40 L106.34,321.17 L107.25,322.00 L108.19,322.85 L109.12,323.66 L110.00,324.40 L110.77,325.02 L111.44,325.55 L112.14,326.05 L112.95,326.58 L114.00,327.20 L115.31,327.96 L116.82,328.82 L118.46,329.70 L120.21,330.52 L122.00,331.20 L123.82,331.71 L125.71,332.09 L127.69,332.41 L129.78,332.69 L132.00,333.00 L134.38,333.32 L136.89,333.64 L139.51,333.94 L142.22,334.22 L145.00,334.50 L147.71,334.76 L150.38,334.99 L153.18,335.22 L156.33,335.45 L160.00,335.70 L164.36,335.98 L169.28,336.27 L174.52,336.57 L179.84,336.86 L185.00,337.10 L190.00,337.30 L195.00,337.48 L200.00,337.63 L205.00,337.77 L210.00,337.90 L215.40,338.03 L221.20,338.15 L226.80,338.25 L231.60,338.34 L235.00,338.40" fill="none" stroke="#f03c2c" stroke-width="1.4" stroke-linejoin="round"/>
<path d="M91.30,307.80 L91.90,302.00 L92.30,294.40 L92.70,302.00 L93.30,307.80" fill="none" stroke="#f03c2c" stroke-width="1.4" stroke-linejoin="round"/>
<text x="230.10" y="333.30" font-size="12.6" font-family='"Liberation Sans", sans-serif' font-weight="normal" text-anchor="end" fill="#111" textLength="39.00" lengthAdjust="spacingAndGlyphs" >114 °C</text>
<path d="M43.60,250.90 L43.71,251.53 L43.86,252.41 L44.03,253.45 L44.22,254.51 L44.40,255.50 L44.57,256.39 L44.73,257.26 L44.91,258.13 L45.09,259.04 L45.30,260.00 L45.52,261.04 L45.76,262.15 L46.02,263.29 L46.30,264.42 L46.60,265.50 L46.94,266.55 L47.31,267.59 L47.70,268.61 L48.10,269.58 L48.50,270.50 L48.90,271.37 L49.31,272.20 L49.72,272.97 L50.12,273.68 L50.50,274.30 L50.86,274.83 L51.20,275.27 L51.53,275.64 L51.86,275.95 L52.20,276.20 L52.55,276.39 L52.90,276.50 L53.26,276.56 L53.63,276.59 L54.00,276.60 L54.38,276.58 L54.78,276.53 L55.18,276.45 L55.58,276.37 L56.00,276.30 L56.43,276.21 L56.86,276.10 L57.30,276.00 L57.75,275.95 L58.20,276.00 L58.65,276.16 L59.09,276.39 L59.55,276.69 L60.01,277.03 L60.50,277.40 L61.00,277.80 L61.52,278.24 L62.06,278.72 L62.62,279.24 L63.20,279.80 L63.82,280.41 L64.47,281.08 L65.14,281.78 L65.82,282.50 L66.50,283.20 L67.20,283.92 L67.91,284.67 L68.63,285.42 L69.33,286.11 L70.00,286.70 L70.64,287.19 L71.26,287.60 L71.87,287.96 L72.45,288.25 L73.00,288.50 L73.52,288.70 L73.99,288.84 L74.45,288.93 L74.92,288.98 L75.40,289.00 L75.88,289.01 L76.36,289.01 L76.85,288.96 L77.39,288.84 L78.00,288.60 L78.71,288.25 L79.50,287.81 L80.33,287.28 L81.18,286.68 L82.00,286.00 L82.81,285.22 L83.62,284.33 L84.44,283.38 L85.23,282.42 L86.00,281.50 L86.74,280.60 L87.46,279.68 L88.17,278.79 L88.85,277.95 L89.50,277.20 L90.12,276.48 L90.72,275.76 L91.29,275.14 L91.85,274.72 L92.40,274.60 L92.93,274.85 L93.44,275.40 L93.95,276.16 L94.46,276.99 L95.00,277.80 L95.57,278.61 L96.15,279.49 L96.74,280.41 L97.36,281.33 L98.00,282.20 L98.66,283.04 L99.34,283.87 L100.03,284.68 L100.75,285.46 L101.50,286.20 L102.24,286.88 L102.99,287.50 L103.77,288.10 L104.62,288.72 L105.60,289.40 L106.71,290.16 L107.92,290.98 L109.21,291.82 L110.58,292.64 L112.00,293.40 L113.42,294.08 L114.84,294.72 L116.36,295.33 L118.05,295.95 L120.00,296.60 L122.23,297.31 L124.69,298.06 L127.34,298.81 L130.16,299.54 L133.10,300.20 L136.19,300.80 L139.44,301.35 L142.83,301.87 L146.36,302.35 L150.00,302.80 L153.77,303.22 L157.68,303.61 L161.71,303.96 L165.82,304.29 L170.00,304.60 L174.26,304.87 L178.61,305.10 L183.03,305.32 L187.50,305.54 L192.00,305.80 L196.58,306.10 L201.27,306.43 L205.97,306.77 L210.58,307.10 L215.00,307.40 L219.51,307.68 L224.18,307.97 L228.58,308.23 L232.33,308.44 L235.00,308.60" fill="none" stroke="#f3a21e" stroke-width="1.7" stroke-linejoin="round"/>
<text x="230.10" y="303.40" font-size="12.6" font-family='"Liberation Sans", sans-serif' font-weight="normal" text-anchor="end" fill="#111" textLength="39.00" lengthAdjust="spacingAndGlyphs" >118 °C</text>
<text x="248.90" y="252.60" font-size="18.5" font-family='"Liberation Sans", sans-serif' font-weight="bold" text-anchor="start" fill="#000" >d</text>
<rect x="326.20" y="251.50" width="23.40" height="230.10" fill="#d3d3d3" stroke="none" stroke-width="1" />
<line x1="294.40" y1="251.50" x2="490.90" y2="251.50" stroke="#111" stroke-width="1.1" />
<line x1="490.90" y1="251.50" x2="490.90" y2="481.60" stroke="#111" stroke-width="1.2" />
<line x1="294.40" y1="251.00" x2="294.40" y2="481.60" stroke="#111" stroke-width="1.6" />
<line x1="293.80" y1="482.20" x2="491.50" y2="482.20" stroke="#000" stroke-width="1.8" />
<text x="290.00" y="486.00" font-size="12.3" font-family='"Liberation Sans", sans-serif' font-weight="normal" text-anchor="end" fill="#111" textLength="22.20" lengthAdjust="spacingAndGlyphs" >0.00</text>
<line x1="294.40" y1="448.65" x2="301.00" y2="448.65" stroke="#111" stroke-width="1.3" />
<text x="290.00" y="453.05" font-size="12.3" font-family='"Liberation Sans", sans-serif' font-weight="normal" text-anchor="end" fill="#111" textLength="22.20" lengthAdjust="spacingAndGlyphs" >0.02</text>
<line x1="294.40" y1="415.70" x2="301.00" y2="415.70" stroke="#111" stroke-width="1.3" />
<text x="290.00" y="420.10" font-size="12.3" font-family='"Liberation Sans", sans-serif' font-weight="normal" text-anchor="end" fill="#111" textLength="22.20" lengthAdjust="spacingAndGlyphs" >0.04</text>
<line x1="294.40" y1="382.75" x2="301.00" y2="382.75" stroke="#111" stroke-width="1.3" />
<text x="290.00" y="387.15" font-size="12.3" font-family='"Liberation Sans", sans-serif' font-weight="normal" text-anchor="end" fill="#111" textLength="22.20" lengthAdjust="spacingAndGlyphs" >0.06</text>
<line x1="294.40" y1="349.80" x2="301.00" y2="349.80" stroke="#111" stroke-width="1.3" />
<text x="290.00" y="354.20" font-size="12.3" font-family='"Liberation Sans", sans-serif' font-weight="normal" text-anchor="end" fill="#111" textLength="22.20" lengthAdjust="spacingAndGlyphs" >0.08</text>
<line x1="294.40" y1="316.85" x2="301.00" y2="316.85" stroke="#111" stroke-width="1.3" />
<text x="290.00" y="321.25" font-size="12.3" font-family='"Liberation Sans", sans-serif' font-weight="normal" text-anchor="end" fill="#111" textLength="22.20" lengthAdjust="spacingAndGlyphs" >0.10</text>
<line x1="294.40" y1="283.90" x2="301.00" y2="283.90" stroke="#111" stroke-width="1.3" />
<text x="290.00" y="288.30" font-size="12.3" font-family='"Liberation Sans", sans-serif' font-weight="normal" text-anchor="end" fill="#111" textLength="22.20" lengthAdjust="spacingAndGlyphs" >0.12</text>
<text x="290.00" y="255.35" font-size="12.3" font-family='"Liberation Sans", sans-serif' font-weight="normal" text-anchor="end" fill="#111" textLength="22.20" lengthAdjust="spacingAndGlyphs" >0.14</text>
<text x="498.50" y="257.60" font-size="11.6" font-family='"Liberation Sans", sans-serif' font-weight="normal" text-anchor="start" fill="#111" textLength="12.60" lengthAdjust="spacingAndGlyphs" >10</text>
<text x="511.60" y="252.00" font-size="8.4" font-family='"Liberation Sans", sans-serif' font-weight="normal" text-anchor="start" fill="#111" textLength="7.00" lengthAdjust="spacingAndGlyphs" >-3</text>
<line x1="483.90" y1="366.60" x2="490.90" y2="366.60" stroke="#111" stroke-width="1.3" />
<text x="498.50" y="372.60" font-size="11.6" font-family='"Liberation Sans", sans-serif' font-weight="normal" text-anchor="start" fill="#111" textLength="12.60" lengthAdjust="spacingAndGlyphs" >10</text>
<text x="511.60" y="367.00" font-size="8.4" font-family='"Liberation Sans", sans-serif' font-weight="normal" text-anchor="start" fill="#111" textLength="7.00" lengthAdjust="spacingAndGlyphs" >-4</text>
<text x="498.50" y="487.60" font-size="11.6" font-family='"Liberation Sans", sans-serif' font-weight="normal" text-anchor="start" fill="#111" textLength="12.60" lengthAdjust="spacingAndGlyphs" >10</text>
<text x="511.60" y="482.00" font-size="8.4" font-family='"Liberation Sans", sans-serif' font-weight="normal" text-anchor="start" fill="#111" textLength="7.00" lengthAdjust="spacingAndGlyphs" >-5</text>
<line x1="487.30" y1="331.98" x2="491.50" y2="331.98" stroke="#111" stroke-width="1.1" />
<text x="493.20" y="334.88" font-size="8.2" font-family='"Liberation Sans", sans-serif' font-weight="normal" text-anchor="start" fill="#111" textLength="4.60" lengthAdjust="spacingAndGlyphs" >2</text>
<line x1="487.30" y1="311.73" x2="491.50" y2="311.73" stroke="#111" stroke-width="1.1" />
<text x="493.20" y="314.63" font-size="8.2" font-family='"Liberation Sans", sans-serif' font-weight="normal" text-anchor="start" fill="#111" textLength="4.60" lengthAdjust="spacingAndGlyphs" >3</text>
<line x1="487.30" y1="297.36" x2="491.50" y2="297.36" stroke="#111" stroke-width="1.1" />
<text x="493.20" y="300.26" font-size="8.2" font-family='"Liberation Sans", sans-serif' font-weight="normal" text-anchor="start" fill="#111" textLength="4.60" lengthAdjust="spacingAndGlyphs" >4</text>
<line x1="487.30" y1="286.22" x2="491.50" y2="286.22" stroke="#111" stroke-width="1.1" />
<text x="493.20" y="289.12" font-size="8.2" font-family='"Liberation Sans", sans-serif' font-weight="normal" text-anchor="start" fill="#111" textLength="4.60" lengthAdjust="spacingAndGlyphs" >5</text>
<line x1="487.30" y1="277.11" x2="491.50" y2="277.11" stroke="#111" stroke-width="1.1" />
<text x="493.20" y="280.01" font-size="8.2" font-family='"Liberation Sans", sans-serif' font-weight="normal" text-anchor="start" fill="#111" textLength="4.60" lengthAdjust="spacingAndGlyphs" >6</text>
<line x1="487.30" y1="269.41" x2="491.50" y2="269.41" stroke="#111" stroke-width="1.1" />
<line x1="487.30" y1="262.74" x2="491.50" y2="262.74" stroke="#111" stroke-width="1.1" />
<line x1="487.30" y1="256.86" x2="491.50" y2="256.86" stroke="#111" stroke-width="1.1" />
<line x1="487.30" y1="446.98" x2="491.50" y2="446.98" stroke="#111" stroke-width="1.1" />
<text x="493.20" y="449.88" font-size="8.2" font-family='"Liberation Sans", sans-serif' font-weight="normal" text-anchor="start" fill="#111" textLength="4.60" lengthAdjust="spacingAndGlyphs" >2</text>
<line x1="487.30" y1="426.73" x2="491.50" y2="426.73" stroke="#111" stroke-width="1.1" />
<text x="493.20" y="429.63" font-size="8.2" font-family='"Liberation Sans", sans-serif' font-weight="normal" text-anchor="start" fill="#111" textLength="4.60" lengthAdjust="spacingAndGlyphs" >3</text>
<line x1="487.30" y1="412.36" x2="491.50" y2="412.36" stroke="#111" stroke-width="1.1" />
<text x="493.20" y="415.26" font-size="8.2" font-family='"Liberation Sans", sans-serif' font-weight="normal" text-anchor="start" fill="#111" textLength="4.60" lengthAdjust="spacingAndGlyphs" >4</text>
<line x1="487.30" y1="401.22" x2="491.50" y2="401.22" stroke="#111" stroke-width="1.1" />
<text x="493.20" y="404.12" font-size="8.2" font-family='"Liberation Sans", sans-serif' font-weight="normal" text-anchor="start" fill="#111" textLength="4.60" lengthAdjust="spacingAndGlyphs" >5</text>
<line x1="487.30" y1="392.11" x2="491.50" y2="392.11" stroke="#111" stroke-width="1.1" />
<text x="493.20" y="395.01" font-size="8.2" font-family='"Liberation Sans", sans-serif' font-weight="normal" text-anchor="start" fill="#111" textLength="4.60" lengthAdjust="spacingAndGlyphs" >6</text>
<line x1="487.30" y1="384.41" x2="491.50" y2="384.41" stroke="#111" stroke-width="1.1" />
<line x1="487.30" y1="377.74" x2="491.50" y2="377.74" stroke="#111" stroke-width="1.1" />
<line x1="487.30" y1="371.86" x2="491.50" y2="371.86" stroke="#111" stroke-width="1.1" />
<line x1="294.38" y1="481.60" x2="294.38" y2="478.60" stroke="#111" stroke-width="1.2" />
<line x1="301.64" y1="481.60" x2="301.64" y2="478.60" stroke="#111" stroke-width="1.2" />
<line x1="308.90" y1="481.60" x2="308.90" y2="475.80" stroke="#111" stroke-width="1.2" />
<line x1="316.16" y1="481.60" x2="316.16" y2="478.60" stroke="#111" stroke-width="1.2" />
<line x1="323.42" y1="481.60" x2="323.42" y2="478.60" stroke="#111" stroke-width="1.2" />
<line x1="330.68" y1="481.60" x2="330.68" y2="478.60" stroke="#111" stroke-width="1.2" />
<line x1="337.94" y1="481.60" x2="337.94" y2="478.60" stroke="#111" stroke-width="1.2" />
<line x1="345.20" y1="481.60" x2="345.20" y2="475.80" stroke="#111" stroke-width="1.2" />
<line x1="352.46" y1="481.60" x2="352.46" y2="478.60" stroke="#111" stroke-width="1.2" />
<line x1="359.72" y1="481.60" x2="359.72" y2="478.60" stroke="#111" stroke-width="1.2" />
<line x1="366.98" y1="481.60" x2="366.98" y2="478.60" stroke="#111" stroke-width="1.2" />
<line x1="374.24" y1="481.60" x2="374.24" y2="478.60" stroke="#111" stroke-width="1.2" />
<line x1="381.50" y1="481.60" x2="381.50" y2="475.80" stroke="#111" stroke-width="1.2" />
<line x1="388.76" y1="481.60" x2="388.76" y2="478.60" stroke="#111" stroke-width="1.2" />
<line x1="396.02" y1="481.60" x2="396.02" y2="478.60" stroke="#111" stroke-width="1.2" />
<line x1="403.28" y1="481.60" x2="403.28" y2="478.60" stroke="#111" stroke-width="1.2" />
<line x1="410.54" y1="481.60" x2="410.54" y2="478.60" stroke="#111" stroke-width="1.2" />
<line x1="417.80" y1="481.60" x2="417.80" y2="475.80" stroke="#111" stroke-width="1.2" />
<line x1="425.06" y1="481.60" x2="425.06" y2="478.60" stroke="#111" stroke-width="1.2" />
<line x1="432.32" y1="481.60" x2="432.32" y2="478.60" stroke="#111" stroke-width="1.2" />
<line x1="439.58" y1="481.60" x2="439.58" y2="478.60" stroke="#111" stroke-width="1.2" />
<line x1="446.84" y1="481.60" x2="446.84" y2="478.60" stroke="#111" stroke-width="1.2" />
<line x1="454.10" y1="481.60" x2="454.10" y2="475.80" stroke="#111" stroke-width="1.2" />
<line x1="461.36" y1="481.60" x2="461.36" y2="478.60" stroke="#111" stroke-width="1.2" />
<line x1="468.62" y1="481.60" x2="468.62" y2="478.60" stroke="#111" stroke-width="1.2" />
<line x1="475.88" y1="481.60" x2="475.88" y2="478.60" stroke="#111" stroke-width="1.2" />
<line x1="483.14" y1="481.60" x2="483.14" y2="478.60" stroke="#111" stroke-width="1.2" />
<line x1="490.40" y1="481.60" x2="490.40" y2="475.80" stroke="#111" stroke-width="1.2" />
<text x="309.30" y="497.60" font-size="12.1" font-family='"Liberation Sans", sans-serif' font-weight="normal" text-anchor="middle" fill="#111" textLength="15.60" lengthAdjust="spacingAndGlyphs" >2.5</text>
<text x="345.60" y="497.60" font-size="12.1" font-family='"Liberation Sans", sans-serif' font-weight="normal" text-anchor="middle" fill="#111" textLength="15.60" lengthAdjust="spacingAndGlyphs" >2.6</text>
<text x="381.90" y="497.60" font-size="12.1" font-family='"Liberation Sans", sans-serif' font-weight="normal" text-anchor="middle" fill="#111" textLength="15.60" lengthAdjust="spacingAndGlyphs" >2.7</text>
<text x="418.20" y="497.60" font-size="12.1" font-family='"Liberation Sans", sans-serif' font-weight="normal" text-anchor="middle" fill="#111" textLength="15.60" lengthAdjust="spacingAndGlyphs" >2.8</text>
<text x="454.50" y="497.60" font-size="12.1" font-family='"Liberation Sans", sans-serif' font-weight="normal" text-anchor="middle" fill="#111" textLength="15.60" lengthAdjust="spacingAndGlyphs" >2.9</text>
<text x="490.80" y="497.60" font-size="12.1" font-family='"Liberation Sans", sans-serif' font-weight="normal" text-anchor="middle" fill="#111" textLength="15.60" lengthAdjust="spacingAndGlyphs" >3.0</text>
<text x="358.20" y="520.00" font-size="12.6" font-family='"Liberation Sans", sans-serif' font-weight="normal" text-anchor="start" fill="#111" textLength="57.00" lengthAdjust="spacingAndGlyphs" >1000/T (K</text>
<text x="415.40" y="511.80" font-size="8.6" font-family='"Liberation Sans", sans-serif' font-weight="normal" text-anchor="start" fill="#111" textLength="7.60" lengthAdjust="spacingAndGlyphs" >-1</text>
<text x="423.80" y="520.00" font-size="12.6" font-family='"Liberation Sans", sans-serif' font-weight="normal" text-anchor="start" fill="#111" textLength="4.40" lengthAdjust="spacingAndGlyphs" >)</text>
<text x="264.20" y="416.40" font-size="13.4" font-family='"Liberation Sans", sans-serif' font-weight="normal" text-anchor="start" fill="#111" textLength="63.60" lengthAdjust="spacingAndGlyphs" transform="rotate(-90 264.20 416.40)" >FWHM (nm</text>
<text x="255.60" y="352.60" font-size="8.6" font-family='"Liberation Sans", sans-serif' font-weight="normal" text-anchor="start" fill="#111" textLength="7.40" lengthAdjust="spacingAndGlyphs" transform="rotate(-90 255.60 352.60)" >-1</text>
<text x="264.20" y="343.20" font-size="13.4" font-family='"Liberation Sans", sans-serif' font-weight="normal" text-anchor="start" fill="#111" textLength="4.40" lengthAdjust="spacingAndGlyphs" transform="rotate(-90 264.20 343.20)" >)</text>
<text x="522.00" y="345.20" font-size="12.8" font-family='"Liberation Sans", sans-serif' font-weight="normal" text-anchor="start" fill="#111" textLength="48.80" lengthAdjust="spacingAndGlyphs" transform="rotate(90 522.00 345.20)" >σ (S/cm)</text>
<path d="M295.20,284.40 L298.44,286.92 L302.92,290.42 L308.27,294.59 L314.09,299.15 L320.00,303.80 L326.26,308.74 L333.14,314.16 L340.23,319.77 L347.12,325.28 L353.40,330.40 L358.92,335.01 L363.94,339.32 L368.71,343.48 L373.45,347.66 L378.40,352.00 L383.66,356.60 L389.07,361.34 L394.48,366.10 L399.74,370.76 L404.70,375.20 L409.28,379.34 L413.59,383.28 L417.73,387.10 L421.83,390.91 L426.00,394.80 L430.20,398.74 L434.37,402.66 L438.54,406.61 L442.77,410.64 L447.10,414.80 L451.60,419.16 L456.23,423.68 L460.90,428.27 L465.52,432.81 L470.00,437.20 L474.64,441.73 L479.51,446.48 L484.14,451.00 L488.09,454.86 L490.90,457.60" fill="none" stroke="#000" stroke-width="1.5"/>
<rect x="303.10" y="259.50" width="7.40" height="7.40" fill="#0a0a0a" stroke="none" stroke-width="1" />
<rect x="314.10" y="266.60" width="7.40" height="7.40" fill="#0a0a0a" stroke="none" stroke-width="1" />
<rect x="325.90" y="273.50" width="7.40" height="7.40" fill="#0a0a0a" stroke="none" stroke-width="1" />
<rect x="335.30" y="286.20" width="7.40" height="7.40" fill="#0a0a0a" stroke="none" stroke-width="1" />
<rect x="342.40" y="314.60" width="7.40" height="7.40" fill="#0a0a0a" stroke="none" stroke-width="1" />
<rect x="349.70" y="326.60" width="7.40" height="7.40" fill="#0a0a0a" stroke="none" stroke-width="1" />
<rect x="361.80" y="337.50" width="7.40" height="7.40" fill="#0a0a0a" stroke="none" stroke-width="1" />
<rect x="374.70" y="347.40" width="7.40" height="7.40" fill="#0a0a0a" stroke="none" stroke-width="1" />
<rect x="387.80" y="359.60" width="7.40" height="7.40" fill="#0a0a0a" stroke="none" stroke-width="1" />
<rect x="401.00" y="371.00" width="7.40" height="7.40" fill="#0a0a0a" stroke="none" stroke-width="1" />
<rect x="415.10" y="384.80" width="7.40" height="7.40" fill="#0a0a0a" stroke="none" stroke-width="1" />
<rect x="429.40" y="397.10" width="7.40" height="7.40" fill="#0a0a0a" stroke="none" stroke-width="1" />
<rect x="443.40" y="410.90" width="7.40" height="7.40" fill="#0a0a0a" stroke="none" stroke-width="1" />
<rect x="458.60" y="424.10" width="7.40" height="7.40" fill="#0a0a0a" stroke="none" stroke-width="1" />
<rect x="473.90" y="440.30" width="7.40" height="7.40" fill="#0a0a0a" stroke="none" stroke-width="1" />
<rect x="303.70" y="325.50" width="6.60" height="6.60" fill="#fff" stroke="#111" stroke-width="1.1" />
<rect x="314.50" y="327.80" width="6.60" height="6.60" fill="#fff" stroke="#111" stroke-width="1.1" />
<rect x="326.50" y="330.70" width="6.60" height="6.60" fill="#fff" stroke="#111" stroke-width="1.1" />
<rect x="335.50" y="454.70" width="6.60" height="6.60" fill="#fff" stroke="#111" stroke-width="1.1" />
<rect x="342.60" y="465.20" width="6.60" height="6.60" fill="#fff" stroke="#111" stroke-width="1.1" />
<rect x="350.20" y="465.40" width="6.60" height="6.60" fill="#fff" stroke="#111" stroke-width="1.1" />
<rect x="362.20" y="465.40" width="6.60" height="6.60" fill="#fff" stroke="#111" stroke-width="1.1" />
<rect x="375.10" y="465.40" width="6.60" height="6.60" fill="#fff" stroke="#111" stroke-width="1.1" />
<rect x="388.20" y="465.40" width="6.60" height="6.60" fill="#fff" stroke="#111" stroke-width="1.1" />
<rect x="401.40" y="465.40" width="6.60" height="6.60" fill="#fff" stroke="#111" stroke-width="1.1" />
<rect x="415.50" y="465.40" width="6.60" height="6.60" fill="#fff" stroke="#111" stroke-width="1.1" />
<rect x="429.80" y="465.40" width="6.60" height="6.60" fill="#fff" stroke="#111" stroke-width="1.1" />
<rect x="443.80" y="465.40" width="6.60" height="6.60" fill="#fff" stroke="#111" stroke-width="1.1" />
<rect x="459.00" y="465.40" width="6.60" height="6.60" fill="#fff" stroke="#111" stroke-width="1.1" />
<rect x="474.30" y="465.40" width="6.60" height="6.60" fill="#fff" stroke="#111" stroke-width="1.1" />
<line x1="330.60" y1="456.80" x2="313.40" y2="456.80" stroke="#000" stroke-width="3.0" />
<polygon points="298.20,456.80 314.40,449.20 314.40,464.40" fill="#000" stroke="none" stroke-width="1" />
<line x1="428.60" y1="386.70" x2="466.80" y2="386.70" stroke="#000" stroke-width="3.0" />
<polygon points="481.10,386.70 465.80,379.10 465.80,394.30" fill="#000" stroke="none" stroke-width="1" />
<line x1="398.60" y1="276.50" x2="424.30" y2="276.50" stroke="#000" stroke-width="3.0" />
<polygon points="437.70,276.50 423.30,269.10 423.30,283.90" fill="#000" stroke="none" stroke-width="1" />
<polygon points="354.60,270.30 365.30,260.20 392.20,260.20 382.40,270.30" fill="#e81e30" stroke="none" stroke-width="1" />
<rect x="354.60" y="270.30" width="27.80" height="7.10" fill="#e8202e" stroke="none" stroke-width="1" />
<polygon points="382.40,270.30 392.20,260.20 392.20,267.30 382.40,277.40" fill="#e8202e" stroke="none" stroke-width="1" />
<rect x="354.60" y="277.40" width="27.80" height="6.70" fill="#3a3aae" stroke="none" stroke-width="1" />
<polygon points="382.40,277.40 392.20,267.30 392.20,274.00 382.40,284.10" fill="#3a3aae" stroke="none" stroke-width="1" />
<rect x="354.60" y="284.10" width="27.80" height="6.20" fill="#e8202e" stroke="none" stroke-width="1" />
<polygon points="382.40,284.10 392.20,274.00 392.20,280.20 382.40,290.30" fill="#e8202e" stroke="none" stroke-width="1" />
<rect x="354.60" y="290.30" width="27.80" height="7.60" fill="#3a3aae" stroke="none" stroke-width="1" />
<polygon points="382.40,290.30 392.20,280.20 392.20,287.80 382.40,297.90" fill="#3a3aae" stroke="none" stroke-width="1" />
<line x1="354.60" y1="277.40" x2="382.40" y2="277.40" stroke="#111" stroke-width="0.9" />
<line x1="382.40" y1="277.40" x2="392.20" y2="267.30" stroke="#111" stroke-width="0.9" />
<line x1="354.60" y1="284.10" x2="382.40" y2="284.10" stroke="#111" stroke-width="0.9" />
<line x1="382.40" y1="284.10" x2="392.20" y2="274.00" stroke="#111" stroke-width="0.9" />
<line x1="354.60" y1="290.30" x2="382.40" y2="290.30" stroke="#111" stroke-width="0.9" />
<line x1="382.40" y1="290.30" x2="392.20" y2="280.20" stroke="#111" stroke-width="0.9" />
<polygon points="354.60,270.30 365.30,260.20 392.20,260.20 392.20,288.40 382.40,297.90 354.60,297.90" fill="none" stroke="#000" stroke-width="1.4" stroke-linejoin="round"/>
<polyline points="354.60,270.30 382.40,270.30 392.20,260.20" fill="none" stroke="#000" stroke-width="1.2" stroke-linejoin="round" />
<line x1="382.40" y1="270.30" x2="382.40" y2="297.90" stroke="#000" stroke-width="1.2" />
<polygon points="442.30,266.30 452.30,256.50 481.70,256.50 472.60,266.30" fill="#7b55a8" stroke="none" stroke-width="1" />
<polygon points="472.60,266.30 481.70,256.50 481.70,285.70 472.60,296.00" fill="#4e2f78" stroke="none" stroke-width="1" />
<rect x="442.30" y="266.30" width="30.30" height="29.70" fill="#5e3b8e" stroke="none" stroke-width="1" />
<polygon points="442.30,266.30 452.30,256.50 481.70,256.50 481.70,285.70 472.60,296.00 442.30,296.00" fill="none" stroke="#000" stroke-width="2.0" stroke-linejoin="round"/>
<polyline points="442.30,266.30 472.60,266.30 481.70,256.50" fill="none" stroke="#000" stroke-width="1.8" stroke-linejoin="round" />
<line x1="472.60" y1="266.30" x2="472.60" y2="296.00" stroke="#000" stroke-width="1.8" />
</svg>
</body></html>
